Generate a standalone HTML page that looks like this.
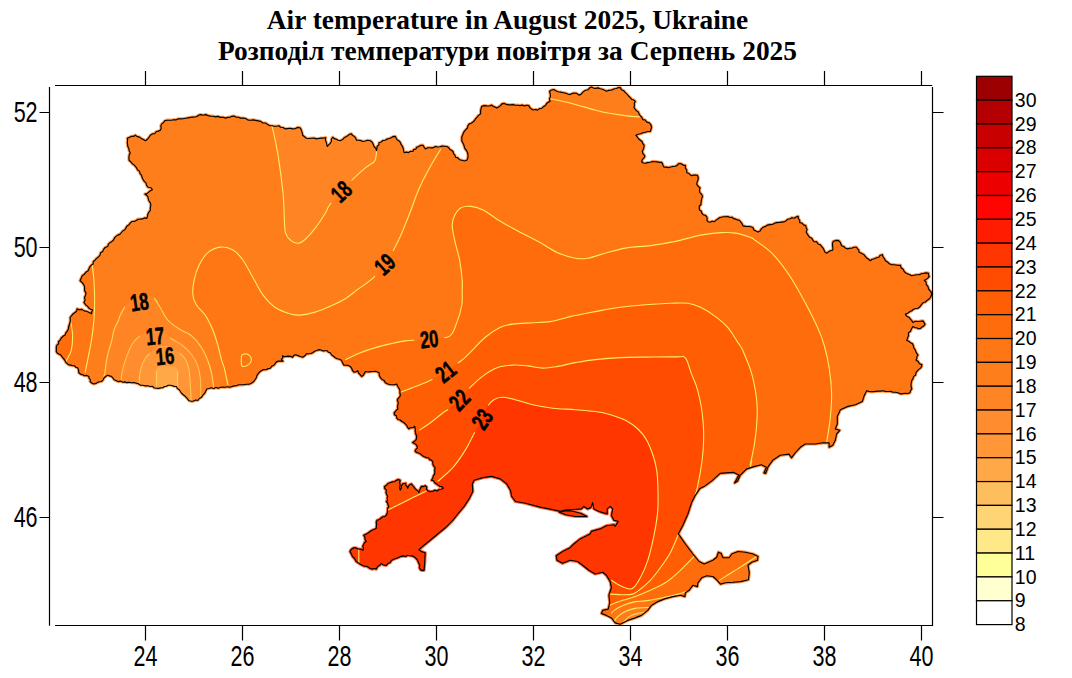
<!DOCTYPE html>
<html><head><meta charset="utf-8"><title>Air temperature in August 2025, Ukraine</title>
<style>
html,body{margin:0;padding:0;background:#fff;}
body{width:1072px;height:678px;overflow:hidden;position:relative;font-family:"Liberation Sans",sans-serif;}
.t{position:absolute;left:0;width:1015px;text-align:center;font-family:"Liberation Serif",serif;font-weight:bold;font-size:27.4px;color:#000;white-space:nowrap;}
svg{position:absolute;left:0;top:0;}
</style></head><body>
<div class="t" style="top:5px">Air temperature in August 2025, Ukraine</div>
<div class="t" style="top:36px">Розподіл температури повітря за Серпень 2025</div>
<svg width="1072" height="678" viewBox="0 0 1072 678">
<defs><mask id="lm" maskUnits="userSpaceOnUse" x="0" y="0" width="1072" height="678"><rect x="0" y="0" width="1072" height="678" fill="#fff"/><rect x="-15" y="-9" width="30" height="18" fill="#000" transform="translate(341.2,191.4) rotate(-43)"/><rect x="-15" y="-9" width="30" height="18" fill="#000" transform="translate(384.5,264.1) rotate(-42)"/><rect x="-15" y="-9" width="30" height="18" fill="#000" transform="translate(429.2,338.9) rotate(-6)"/><rect x="-15" y="-9" width="30" height="18" fill="#000" transform="translate(445.5,371.5) rotate(-38)"/><rect x="-15" y="-9" width="30" height="18" fill="#000" transform="translate(459.3,399.8) rotate(-46)"/><rect x="-15" y="-9" width="30" height="18" fill="#000" transform="translate(481.9,419.1) rotate(-56)"/><rect x="-15" y="-9" width="30" height="18" fill="#000" transform="translate(139.3,301.8) rotate(-8)"/><rect x="-15" y="-9" width="30" height="18" fill="#000" transform="translate(155.1,335.9) rotate(-5)"/><rect x="-15" y="-9" width="30" height="18" fill="#000" transform="translate(165,355.8) rotate(-5)"/></mask><mask id="um" maskUnits="userSpaceOnUse" x="0" y="0" width="1072" height="678"><g fill="#fff" stroke="#fff" stroke-width="3.2" stroke-linejoin="round"><polygon points="124.6,230.0 125.8,228.1 127.0,226.1 129.1,224.8 130.3,222.9 132.1,221.5 134.4,221.4 136.3,220.4 138.1,219.2 140.4,219.1 142.5,218.9 144.5,217.9 146.6,218.4 147.5,216.4 147.9,214.1 148.9,212.1 150.4,210.4 150.3,207.9 150.9,205.4 150.4,202.9 149.0,201.0 148.3,198.9 147.9,196.6 146.5,195.2 144.9,194.1 147.1,193.6 148.7,192.1 150.4,190.7 152.4,189.8 150.9,187.7 148.1,187.3 146.6,185.3 146.1,183.1 144.3,181.4 143.1,179.5 142.1,177.6 141.6,175.3 140.1,173.6 139.5,171.3 137.5,169.9 136.6,167.8 135.2,166.2 133.7,164.7 132.0,163.4 130.7,161.7 129.1,160.3 128.9,157.7 129.2,155.1 130.3,152.7 129.1,150.8 128.9,148.5 127.8,146.5 127.6,144.4 127.3,142.4 127.6,140.3 127.3,138.2 129.3,137.4 131.2,136.4 133.5,136.4 135.3,135.2 137.2,136.6 139.5,137.1 141.3,138.6 143.4,139.6 145.4,140.7 147.5,139.2 149.0,137.3 150.4,135.2 152.3,133.9 154.7,133.8 156.1,131.7 158.3,131.1 160.4,130.2 161.2,128.2 160.8,125.9 161.7,123.9 163.4,122.7 164.6,120.9 166.7,120.2 169.0,120.2 171.3,120.2 173.6,119.7 176.0,119.9 178.2,118.8 180.5,118.9 183.0,118.8 185.5,118.3 188.0,117.9 190.5,117.4 193.0,117.1 195.0,117.0 197.0,116.5 198.6,115.2 200.5,114.6 203.0,115.2 205.6,114.6 208.0,115.6 210.5,116.1 213.0,116.2 215.4,116.9 218.0,116.4 220.4,117.4 223.1,117.2 225.6,118.1 227.6,117.4 229.8,117.2 231.8,116.4 234.1,116.1 236.2,117.2 238.5,117.2 240.6,118.1 243.2,118.1 245.7,118.5 248.0,120.1 250.6,120.2 253.2,119.9 255.7,120.4 258.2,120.9 260.7,121.4 262.8,123.0 265.6,123.0 267.7,124.6 270.0,125.7 272.2,125.8 274.4,126.3 276.6,126.2 278.8,125.7 280.6,127.3 283.1,127.5 285.0,128.9 287.5,128.6 290.0,128.3 292.5,128.9 295.1,128.8 297.5,127.4 300.0,127.7 301.1,129.4 301.7,131.3 302.3,133.2 302.6,135.2 304.5,136.7 306.4,138.2 308.9,138.5 311.4,138.2 314.0,138.0 316.4,138.9 318.7,138.5 321.0,138.1 323.4,138.1 325.7,137.7 325.4,140.0 326.2,142.1 326.8,144.3 327.2,146.5 328.7,144.9 330.2,143.3 331.4,141.5 331.4,139.2 332.7,137.2 334.3,138.6 336.3,139.3 338.1,140.3 340.2,140.7 342.6,139.6 344.3,137.7 346.5,136.4 348.1,135.4 349.6,134.2 351.5,133.9 352.6,135.6 354.5,136.6 355.8,138.2 356.5,140.2 358.7,140.2 360.8,140.6 362.8,141.5 365.3,141.0 367.7,140.3 370.3,140.7 372.2,142.2 373.2,144.3 374.0,146.5 375.8,148.3 376.5,150.7 376.9,148.6 377.1,146.5 378.9,144.9 379.0,142.7 381.2,142.0 383.0,140.5 385.3,140.2 387.2,139.1 389.2,138.5 391.2,137.7 393.1,136.6 395.3,136.4 396.2,138.3 397.3,140.0 399.2,141.1 400.4,142.7 401.2,144.7 402.5,146.5 403.2,148.5 403.6,150.6 404.1,152.7 406.3,152.1 408.6,152.6 410.6,151.3 412.9,151.5 413.6,149.6 415.9,149.1 416.6,147.2 418.7,146.6 420.6,145.4 422.9,145.2 424.1,147.1 425.4,149.0 427.7,147.7 430.4,147.8 433.1,147.8 435.4,146.5 437.7,147.0 439.9,146.8 442.2,146.1 444.4,146.3 446.7,146.5 448.6,147.4 449.6,149.3 451.4,150.3 453.0,151.5 453.5,153.6 454.9,155.2 455.5,157.2 457.8,157.9 459.5,159.7 461.8,160.3 464.3,161.0 466.8,160.3 467.7,158.5 468.0,156.7 468.0,154.7 467.5,152.5 466.5,150.5 464.9,148.7 464.3,146.5 463.7,144.6 462.8,142.8 461.8,141.0 461.8,138.9 461.8,136.8 462.7,135.0 463.3,133.2 464.3,131.4 465.8,129.7 467.4,128.0 468.0,125.7 469.3,123.9 471.3,123.2 472.9,122.0 474.4,120.7 475.5,118.9 477.1,117.1 478.6,115.3 480.6,113.9 480.6,111.3 481.0,108.8 481.8,106.4 484.2,105.6 486.8,105.9 489.4,106.0 491.8,105.1 493.2,106.5 495.1,107.1 496.8,108.1 498.6,106.9 500.5,105.6 501.9,103.9 504.2,103.4 506.4,104.4 508.6,104.9 510.8,104.9 513.1,104.6 515.3,105.3 517.7,105.2 520.0,105.6 522.2,105.1 524.4,106.0 526.6,105.3 528.8,105.6 529.7,107.5 531.3,108.9 533.2,110.0 535.5,109.5 537.5,110.1 539.5,108.7 542.0,108.2 543.8,106.4 545.6,105.4 546.6,103.5 548.2,102.2 550.1,101.4 549.5,98.9 550.5,96.3 550.2,93.8 549.6,91.3 551.5,90.0 553.8,89.6 555.8,90.8 558.0,91.8 560.3,92.1 562.6,92.6 565.2,93.0 567.6,94.0 570.1,94.6 572.1,93.6 574.2,93.0 576.4,93.3 578.9,95.1 581.0,94.4 582.4,92.7 583.9,91.3 585.8,90.3 588.0,89.8 589.5,88.1 591.4,87.1 593.5,88.1 595.7,88.4 598.1,87.9 600.2,88.8 602.4,89.3 604.5,90.2 606.5,91.3 608.5,90.4 610.7,90.3 612.7,89.6 614.5,88.8 616.5,88.5 618.3,87.6 620.3,87.6 621.5,89.7 623.8,90.8 625.3,92.6 627.0,94.2 628.5,96.0 630.3,97.6 631.6,99.3 633.7,100.0 635.3,101.4 634.3,103.3 634.4,105.5 634.0,107.6 635.2,109.2 636.5,110.8 638.3,111.9 639.0,113.9 640.3,115.8 641.9,117.4 642.8,119.6 645.2,120.0 646.8,122.1 649.1,122.7 650.8,124.7 651.6,127.2 651.0,129.3 650.3,131.4 647.7,131.5 645.3,132.2 642.8,132.7 640.6,133.8 638.1,134.3 635.8,135.2 637.2,136.9 638.5,138.8 640.3,140.2 642.0,141.5 642.8,143.6 644.1,145.2 643.9,147.4 643.2,149.5 642.3,151.5 642.8,153.3 644.0,154.8 644.8,156.5 643.7,158.1 642.3,159.6 641.6,161.5 643.2,163.0 645.3,163.3 647.8,162.6 650.3,162.3 652.8,161.5 655.0,161.7 657.2,161.9 659.4,162.4 661.6,162.3 662.5,163.9 663.2,165.7 664.1,167.3 666.3,167.1 668.6,167.6 670.7,167.0 672.9,166.5 675.0,166.3 676.9,165.6 678.4,163.9 680.4,163.5 682.0,164.2 683.5,165.3 685.4,165.3 685.3,167.9 686.8,170.2 686.7,172.8 688.7,173.3 690.1,174.7 691.7,175.8 693.5,175.0 695.5,175.1 697.4,175.3 698.3,177.7 697.9,180.3 697.1,182.1 696.7,184.1 698.0,186.2 700.0,187.8 699.4,190.3 700.0,192.8 701.7,194.4 702.5,196.6 701.7,198.6 701.3,200.7 701.0,202.9 700.9,204.7 699.3,206.0 699.2,207.9 699.4,209.9 701.2,211.0 701.7,212.9 703.0,214.7 705.1,215.2 706.7,216.6 707.2,218.3 706.9,220.2 708.0,221.7 710.1,222.2 712.1,221.2 714.2,221.7 715.8,220.4 717.5,219.2 719.2,217.9 721.4,217.3 723.5,216.8 725.8,216.7 728.0,216.6 729.8,217.5 732.0,217.2 733.6,218.6 735.5,219.1 737.2,219.9 739.2,220.2 740.5,221.7 742.0,223.7 743.1,225.9 745.6,226.4 748.1,226.5 750.6,226.7 752.8,227.5 753.9,230.0 755.9,231.1 758.0,232.1 760.1,231.0 761.3,228.9 763.2,227.3 765.5,226.4 767.6,225.1 770.1,224.6 772.5,224.5 774.5,223.3 776.8,222.6 779.1,222.5 781.4,222.1 783.8,221.9 785.9,220.9 787.8,219.3 790.1,218.8 791.9,217.7 794.3,218.2 796.1,217.0 798.1,216.3 798.3,218.5 799.7,220.4 799.6,222.6 801.9,223.0 803.5,224.9 805.7,225.6 806.2,227.7 807.1,229.6 806.2,231.9 807.2,233.9 808.4,235.6 809.6,237.3 811.8,238.2 812.7,240.2 814.3,241.8 816.8,241.9 818.0,244.0 820.2,244.7 821.5,246.4 822.9,248.0 823.9,249.8 824.7,251.9 826.5,253.2 828.4,251.9 830.4,250.7 832.7,250.2 832.9,248.0 832.6,245.8 832.5,243.6 833.2,241.4 835.1,240.7 837.0,240.4 839.0,240.9 840.2,242.3 840.9,244.0 841.5,245.7 843.7,246.5 845.5,248.2 847.8,248.9 849.9,248.2 852.2,248.1 854.2,247.2 856.5,247.2 857.5,248.8 858.8,250.2 859.0,252.2 861.3,253.3 863.6,254.4 865.3,256.4 866.7,258.1 868.6,259.3 870.3,260.7 872.2,259.3 874.5,258.7 876.6,257.7 878.8,257.3 880.2,255.2 882.4,254.7 883.0,256.9 884.5,258.7 885.4,260.7 887.5,262.0 889.3,263.8 891.6,264.7 893.8,264.7 896.0,265.0 898.2,265.4 900.4,265.2 901.0,267.7 903.1,269.3 904.2,271.5 905.8,273.0 907.8,273.9 909.7,274.8 911.7,275.7 914.2,275.2 916.7,274.8 919.2,274.7 921.4,273.7 923.8,273.4 926.1,272.9 928.5,273.2 928.5,274.9 929.2,276.5 927.8,278.1 926.2,279.4 924.2,280.3 926.0,282.0 926.3,284.7 928.0,286.5 928.4,288.6 929.6,290.4 931.1,292.0 931.7,294.0 931.2,295.8 930.3,297.5 929.2,299.0 927.2,300.3 925.3,302.0 923.0,302.8 921.4,304.7 919.9,306.7 917.9,308.3 915.6,308.5 913.5,309.3 911.7,310.8 909.6,311.8 907.7,313.3 905.4,314.1 906.6,316.3 908.9,317.2 910.4,319.1 911.8,320.6 912.9,322.4 915.3,321.3 917.9,321.5 920.5,321.2 923.0,320.9 924.0,322.5 925.0,324.1 923.8,325.9 922.0,327.0 920.5,328.4 918.4,328.7 916.6,327.8 914.7,327.6 912.9,326.6 911.5,328.8 910.5,331.2 908.4,332.9 908.5,335.6 907.6,338.0 906.7,340.4 908.8,341.2 910.5,342.8 912.5,343.8 913.3,345.7 913.8,347.8 915.0,349.5 915.8,351.5 916.7,353.4 918.0,355.1 916.8,356.6 916.8,358.5 916.0,360.1 918.1,361.4 919.4,363.7 921.8,364.6 921.6,366.5 920.5,368.1 918.8,369.4 917.3,370.9 916.0,372.6 915.6,375.0 913.5,376.6 913.0,378.9 911.8,380.3 911.5,382.2 911.0,383.9 911.1,386.5 911.8,388.9 910.5,390.6 910.0,392.7 907.7,393.5 905.2,393.3 902.9,393.6 900.5,393.9 898.1,392.8 895.6,392.3 893.0,392.2 890.6,391.4 888.0,391.5 885.5,391.4 883.0,390.8 880.5,391.1 877.9,391.1 875.4,391.4 873.2,391.6 871.0,391.8 868.8,391.4 866.7,390.7 864.2,395.7 862.4,401.4 855.4,404.7 847.9,406.4 840.4,409.7 837.3,416.5 837.3,424.0 835.3,429.0 839.8,430.3 836.6,434.0 835.3,440.3 832.8,445.3 829.1,447.3 829.1,442.8 822.8,442.8 815.3,444.0 805.3,444.0 800.3,447.3 795.2,452.8 791.5,457.8 789.0,454.1 780.2,455.3 772.7,460.3 768.2,466.6 765.7,473.4 763.9,472.9 766.4,467.3 761.4,464.8 753.9,466.6 746.4,469.1 740.1,475.4 737.6,481.1 734.6,482.9 738.8,474.9 733.8,472.4 726.3,472.9 720.1,473.4 712.5,480.4 705.0,485.9 700.0,488.4 695.4,495.1 691.6,502.6 687.9,513.9 682.9,525.2 678.3,533.9 685.4,544.0 692.9,554.0 699.1,561.5 704.2,564.0 712.9,560.3 716.7,557.2 718.4,552.2 721.0,553.2 723.0,557.7 729.2,557.7 731.7,554.0 738.0,551.5 745.5,552.2 753.0,554.0 758.0,556.5 757.5,560.3 751.8,562.3 748.0,565.3 749.3,572.8 748.5,579.8 740.5,581.6 733.0,582.3 725.5,582.8 720.5,584.1 716.7,579.8 712.9,576.5 706.7,575.8 701.7,577.8 697.9,582.8 697.4,586.6 692.9,585.3 689.1,590.3 685.4,592.8 684.9,596.6 680.4,595.3 672.8,596.6 665.3,598.6 657.8,601.6 651.5,605.4 647.8,610.4 641.5,615.4 635.2,617.9 627.7,620.4 620.2,624.2 615.2,622.9 611.4,617.9 606.4,615.4 601.4,613.4 602.7,610.4 608.2,609.1 609.7,602.9 608.9,595.3 611.4,587.8 610.2,581.6 606.4,575.3 602.7,572.3 595.1,574.0 588.9,570.3 582.6,565.3 577.6,561.5 570.1,560.3 562.6,563.3 557.0,560.3 556.3,555.7 562.6,551.5 570.1,547.7 573.8,544.0 580.1,538.9 590.1,533.9 591.4,531.4 600.2,528.9 606.4,525.7 613.9,524.7 615.2,526.4 618.2,521.4 613.9,520.2 611.4,515.6 612.7,508.9 610.2,506.4 607.2,508.9 607.2,513.9 602.7,512.6 598.9,511.4 593.9,508.9 592.6,502.6 590.9,507.6 587.6,508.9 583.9,506.4 581.4,508.9 572.6,509.6 565.1,510.1 560.1,511.4 555.0,510.1 540.0,507.1 525.5,503.2 515.4,501.5 511.7,496.4 510.4,490.2 506.7,483.9 500.4,478.9 491.6,476.4 482.9,477.6 474.1,480.2 472.3,483.9 472.8,491.4 469.1,498.9 464.1,506.5 457.8,514.0 452.8,520.3 445.3,527.8 437.7,534.0 430.2,540.3 424.0,545.3 418.9,549.8 421.5,551.6 425.2,552.8 424.7,562.9 424.0,570.4 422.3,570.4 420.7,569.9 419.4,567.7 419.7,565.0 418.5,562.7 417.7,560.4 416.6,559.0 415.3,557.7 413.9,556.6 411.9,555.9 409.8,555.7 407.7,555.3 405.7,556.5 403.2,555.9 401.0,556.4 398.9,557.3 397.0,558.1 395.1,558.8 393.2,559.4 391.4,560.4 390.2,562.5 387.8,563.5 386.4,565.4 384.6,565.1 382.8,564.7 381.4,563.4 379.7,565.3 377.6,566.6 376.3,569.1 374.3,568.5 372.1,569.1 370.1,568.4 368.4,567.3 366.6,566.2 364.5,566.2 362.6,565.4 360.4,564.3 358.4,562.9 356.3,561.6 355.3,559.8 354.1,558.0 352.5,556.6 351.8,554.9 351.0,553.2 350.0,551.6 350.8,549.9 352.2,548.7 353.8,547.8 356.0,547.9 357.9,549.0 360.1,549.1 361.7,549.4 363.1,550.3 363.4,548.2 362.8,546.1 363.8,544.1 364.6,542.4 366.3,541.6 365.1,539.6 364.9,537.3 363.8,535.3 366.0,534.3 368.1,533.0 370.1,531.5 372.0,530.2 374.2,529.4 376.3,528.3 376.4,526.3 376.6,524.3 376.3,522.2 377.1,520.3 379.6,519.5 381.4,517.7 383.1,516.7 385.1,516.5 386.6,514.7 387.4,512.5 387.6,510.2 387.6,508.1 388.9,506.5 388.0,504.9 387.7,503.0 386.4,501.5 387.5,500.0 387.1,498.1 387.6,496.4 386.7,494.5 386.0,492.5 386.4,490.2 384.8,488.5 384.6,486.4 386.5,485.3 388.0,483.5 390.1,482.7 392.2,481.9 394.6,481.7 396.4,480.2 398.3,479.6 400.2,480.2 399.7,482.7 400.2,485.2 399.6,487.7 400.2,490.2 401.3,488.2 401.5,485.9 402.7,483.9 405.7,483.2 405.8,485.1 407.1,486.5 407.7,488.2 408.4,486.3 409.6,484.8 411.4,483.9 412.7,485.6 414.0,487.2 415.2,488.9 416.6,490.0 418.1,491.1 418.9,492.7 419.6,490.5 420.4,488.4 421.5,486.4 423.4,486.6 425.2,485.7 426.7,487.0 426.5,489.2 427.7,490.7 430.1,491.6 432.7,491.4 434.7,490.3 437.1,490.9 439.0,489.7 441.3,489.3 443.3,488.2 441.9,486.6 439.7,486.3 438.1,485.1 436.5,483.9 434.7,482.8 433.6,480.8 431.5,480.2 432.7,478.2 433.4,475.9 434.7,473.9 434.8,471.8 434.7,469.7 435.2,467.6 433.7,466.0 432.8,464.1 432.9,461.8 431.5,460.1 429.7,459.6 428.5,457.8 426.5,457.6 424.2,456.7 422.1,455.4 420.2,453.8 418.5,453.0 416.7,452.5 415.2,451.3 415.7,449.6 417.2,448.2 417.2,446.3 416.1,444.6 414.5,443.5 412.7,442.6 414.1,441.5 415.6,440.5 416.4,438.8 416.7,436.2 415.7,433.8 415.2,431.3 415.3,428.8 414.7,426.3 413.0,427.8 410.7,427.6 408.9,428.8 407.6,427.3 406.7,425.4 405.3,423.9 403.9,422.5 401.9,421.5 400.2,420.0 398.1,419.5 396.7,417.8 396.4,415.8 394.5,414.7 394.2,412.8 395.4,411.5 396.5,410.1 397.9,409.0 397.5,406.8 398.0,404.6 398.2,402.4 397.4,400.3 398.1,398.4 399.6,397.1 400.4,395.3 399.9,392.8 399.9,390.3 398.9,388.2 397.6,386.2 396.7,384.0 394.3,384.8 391.7,384.7 389.4,384.5 387.4,383.8 385.4,382.7 384.2,380.6 382.1,379.4 380.4,377.7 379.3,375.3 379.1,372.7 377.1,371.7 375.1,371.2 372.9,371.5 370.4,371.6 367.8,372.0 365.3,371.5 364.4,373.4 363.3,375.2 361.6,376.5 360.1,374.7 358.6,373.0 357.8,370.7 356.1,371.8 354.1,372.2 352.5,370.5 351.7,368.3 350.3,366.4 348.3,365.4 346.2,365.2 344.0,365.2 343.0,363.6 342.2,361.9 341.5,360.2 339.4,359.3 337.3,358.7 335.3,357.7 333.5,356.2 331.5,354.8 330.3,352.7 328.5,352.3 327.2,350.7 325.2,350.7 323.0,350.9 321.1,350.0 319.0,349.6 316.8,350.5 314.6,351.2 312.7,352.7 310.7,353.5 308.6,353.8 306.4,353.9 304.8,355.8 302.7,357.2 300.3,356.5 298.0,355.6 295.7,354.7 293.8,355.4 292.7,357.2 290.7,356.4 288.6,356.1 286.4,356.4 284.4,356.8 282.6,355.7 282.7,357.8 281.4,359.4 283.0,361.2 280.8,361.1 278.5,361.1 276.4,361.9 275.2,363.6 273.9,365.2 271.7,366.3 270.1,368.3 267.6,368.9 265.8,369.7 263.6,369.6 261.8,370.4 260.1,371.5 258.4,373.3 257.0,375.3 256.3,377.7 254.9,379.8 253.4,381.8 251.3,383.2 248.9,384.2 246.3,384.2 243.8,384.7 241.3,384.8 238.7,384.7 236.3,385.7 234.1,385.9 232.0,386.5 230.0,387.2 227.6,386.8 225.2,387.3 222.9,387.1 220.5,387.2 218.3,388.2 215.8,387.4 213.7,388.5 211.2,387.8 209.0,388.5 206.7,389.0 205.7,391.2 204.6,393.4 202.9,395.2 201.5,397.2 199.4,398.5 197.9,400.3 195.7,400.1 193.5,401.1 191.3,401.3 189.1,400.8 187.9,399.3 186.7,397.9 185.4,396.5 183.6,395.0 181.8,393.5 180.4,391.5 179.3,389.7 177.3,388.6 176.6,386.5 174.4,386.4 172.4,385.7 170.3,385.2 168.2,385.2 166.5,386.2 164.5,386.5 162.8,387.7 160.7,387.9 158.6,388.4 156.5,388.2 154.3,388.0 152.5,386.4 150.3,386.5 147.9,385.8 145.3,385.9 142.8,385.2 140.5,385.2 138.6,383.9 136.5,383.2 134.0,382.6 131.5,382.7 129.0,382.2 126.9,382.6 124.8,381.9 122.7,382.2 120.7,381.1 118.4,381.6 116.4,380.7 114.3,379.8 112.9,378.0 111.4,376.4 109.5,375.9 107.7,375.2 105.6,376.5 103.9,378.2 103.0,380.1 101.4,381.5 99.4,381.7 97.5,382.4 95.8,383.4 93.9,384.0 91.8,383.1 90.1,381.5 90.4,379.6 89.0,378.2 88.9,376.4 86.9,375.4 84.6,375.7 82.6,374.7 80.5,374.1 78.8,372.7 78.6,370.1 77.6,367.7 75.8,367.3 74.5,365.7 72.6,365.7 70.9,365.1 69.1,364.9 67.6,363.9 66.0,362.5 65.0,360.6 63.8,358.9 62.3,357.1 60.9,355.1 58.8,353.9 57.2,353.0 56.3,351.4 56.4,349.3 56.3,347.2 57.0,345.1 58.6,343.8 58.6,341.5 60.1,340.1 61.3,338.0 63.0,336.3 65.1,335.1 65.9,332.8 67.5,330.9 68.4,328.7 68.8,326.3 69.5,324.2 70.2,322.0 70.4,319.8 70.1,317.5 71.6,315.7 73.1,313.8 75.1,312.5 76.7,311.0 77.1,308.8 79.3,309.8 81.9,309.4 84.0,310.9 86.4,311.3 88.1,312.0 89.8,312.8 91.4,313.8 91.8,311.8 92.6,310.0 90.6,309.2 88.8,308.1 87.6,306.3 86.1,305.3 85.0,303.9 83.9,302.5 85.1,300.2 84.5,297.5 85.6,295.2 86.0,292.9 84.7,290.9 84.6,288.7 84.6,286.5 83.5,284.3 82.0,282.3 80.1,280.7 80.7,279.2 81.4,277.7 82.4,275.5 84.4,274.2 85.8,272.3 87.9,271.1 88.9,268.9 89.8,266.9 91.2,265.3 93.1,264.0 93.3,261.5 95.1,260.2 96.5,258.4 98.5,257.0 100.0,255.2 100.7,252.7 102.7,251.4 103.7,249.2 105.2,247.5 107.7,246.5 108.4,244.1 110.2,242.6 112.0,241.4 113.6,240.0 114.5,237.9 116.0,236.4 117.7,235.1 119.8,234.4 121.3,232.7 122.7,231.0"/><polygon points="559.3,512.2 565,510.9 570.6,510.7 580.6,513.2 586.9,516.5 575.6,516.5 565.6,514.7"/></g></mask><clipPath id="ua"><polygon points="124.6,230.0 125.8,228.1 127.0,226.1 129.1,224.8 130.3,222.9 132.1,221.5 134.4,221.4 136.3,220.4 138.1,219.2 140.4,219.1 142.5,218.9 144.5,217.9 146.6,218.4 147.5,216.4 147.9,214.1 148.9,212.1 150.4,210.4 150.3,207.9 150.9,205.4 150.4,202.9 149.0,201.0 148.3,198.9 147.9,196.6 146.5,195.2 144.9,194.1 147.1,193.6 148.7,192.1 150.4,190.7 152.4,189.8 150.9,187.7 148.1,187.3 146.6,185.3 146.1,183.1 144.3,181.4 143.1,179.5 142.1,177.6 141.6,175.3 140.1,173.6 139.5,171.3 137.5,169.9 136.6,167.8 135.2,166.2 133.7,164.7 132.0,163.4 130.7,161.7 129.1,160.3 128.9,157.7 129.2,155.1 130.3,152.7 129.1,150.8 128.9,148.5 127.8,146.5 127.6,144.4 127.3,142.4 127.6,140.3 127.3,138.2 129.3,137.4 131.2,136.4 133.5,136.4 135.3,135.2 137.2,136.6 139.5,137.1 141.3,138.6 143.4,139.6 145.4,140.7 147.5,139.2 149.0,137.3 150.4,135.2 152.3,133.9 154.7,133.8 156.1,131.7 158.3,131.1 160.4,130.2 161.2,128.2 160.8,125.9 161.7,123.9 163.4,122.7 164.6,120.9 166.7,120.2 169.0,120.2 171.3,120.2 173.6,119.7 176.0,119.9 178.2,118.8 180.5,118.9 183.0,118.8 185.5,118.3 188.0,117.9 190.5,117.4 193.0,117.1 195.0,117.0 197.0,116.5 198.6,115.2 200.5,114.6 203.0,115.2 205.6,114.6 208.0,115.6 210.5,116.1 213.0,116.2 215.4,116.9 218.0,116.4 220.4,117.4 223.1,117.2 225.6,118.1 227.6,117.4 229.8,117.2 231.8,116.4 234.1,116.1 236.2,117.2 238.5,117.2 240.6,118.1 243.2,118.1 245.7,118.5 248.0,120.1 250.6,120.2 253.2,119.9 255.7,120.4 258.2,120.9 260.7,121.4 262.8,123.0 265.6,123.0 267.7,124.6 270.0,125.7 272.2,125.8 274.4,126.3 276.6,126.2 278.8,125.7 280.6,127.3 283.1,127.5 285.0,128.9 287.5,128.6 290.0,128.3 292.5,128.9 295.1,128.8 297.5,127.4 300.0,127.7 301.1,129.4 301.7,131.3 302.3,133.2 302.6,135.2 304.5,136.7 306.4,138.2 308.9,138.5 311.4,138.2 314.0,138.0 316.4,138.9 318.7,138.5 321.0,138.1 323.4,138.1 325.7,137.7 325.4,140.0 326.2,142.1 326.8,144.3 327.2,146.5 328.7,144.9 330.2,143.3 331.4,141.5 331.4,139.2 332.7,137.2 334.3,138.6 336.3,139.3 338.1,140.3 340.2,140.7 342.6,139.6 344.3,137.7 346.5,136.4 348.1,135.4 349.6,134.2 351.5,133.9 352.6,135.6 354.5,136.6 355.8,138.2 356.5,140.2 358.7,140.2 360.8,140.6 362.8,141.5 365.3,141.0 367.7,140.3 370.3,140.7 372.2,142.2 373.2,144.3 374.0,146.5 375.8,148.3 376.5,150.7 376.9,148.6 377.1,146.5 378.9,144.9 379.0,142.7 381.2,142.0 383.0,140.5 385.3,140.2 387.2,139.1 389.2,138.5 391.2,137.7 393.1,136.6 395.3,136.4 396.2,138.3 397.3,140.0 399.2,141.1 400.4,142.7 401.2,144.7 402.5,146.5 403.2,148.5 403.6,150.6 404.1,152.7 406.3,152.1 408.6,152.6 410.6,151.3 412.9,151.5 413.6,149.6 415.9,149.1 416.6,147.2 418.7,146.6 420.6,145.4 422.9,145.2 424.1,147.1 425.4,149.0 427.7,147.7 430.4,147.8 433.1,147.8 435.4,146.5 437.7,147.0 439.9,146.8 442.2,146.1 444.4,146.3 446.7,146.5 448.6,147.4 449.6,149.3 451.4,150.3 453.0,151.5 453.5,153.6 454.9,155.2 455.5,157.2 457.8,157.9 459.5,159.7 461.8,160.3 464.3,161.0 466.8,160.3 467.7,158.5 468.0,156.7 468.0,154.7 467.5,152.5 466.5,150.5 464.9,148.7 464.3,146.5 463.7,144.6 462.8,142.8 461.8,141.0 461.8,138.9 461.8,136.8 462.7,135.0 463.3,133.2 464.3,131.4 465.8,129.7 467.4,128.0 468.0,125.7 469.3,123.9 471.3,123.2 472.9,122.0 474.4,120.7 475.5,118.9 477.1,117.1 478.6,115.3 480.6,113.9 480.6,111.3 481.0,108.8 481.8,106.4 484.2,105.6 486.8,105.9 489.4,106.0 491.8,105.1 493.2,106.5 495.1,107.1 496.8,108.1 498.6,106.9 500.5,105.6 501.9,103.9 504.2,103.4 506.4,104.4 508.6,104.9 510.8,104.9 513.1,104.6 515.3,105.3 517.7,105.2 520.0,105.6 522.2,105.1 524.4,106.0 526.6,105.3 528.8,105.6 529.7,107.5 531.3,108.9 533.2,110.0 535.5,109.5 537.5,110.1 539.5,108.7 542.0,108.2 543.8,106.4 545.6,105.4 546.6,103.5 548.2,102.2 550.1,101.4 549.5,98.9 550.5,96.3 550.2,93.8 549.6,91.3 551.5,90.0 553.8,89.6 555.8,90.8 558.0,91.8 560.3,92.1 562.6,92.6 565.2,93.0 567.6,94.0 570.1,94.6 572.1,93.6 574.2,93.0 576.4,93.3 578.9,95.1 581.0,94.4 582.4,92.7 583.9,91.3 585.8,90.3 588.0,89.8 589.5,88.1 591.4,87.1 593.5,88.1 595.7,88.4 598.1,87.9 600.2,88.8 602.4,89.3 604.5,90.2 606.5,91.3 608.5,90.4 610.7,90.3 612.7,89.6 614.5,88.8 616.5,88.5 618.3,87.6 620.3,87.6 621.5,89.7 623.8,90.8 625.3,92.6 627.0,94.2 628.5,96.0 630.3,97.6 631.6,99.3 633.7,100.0 635.3,101.4 634.3,103.3 634.4,105.5 634.0,107.6 635.2,109.2 636.5,110.8 638.3,111.9 639.0,113.9 640.3,115.8 641.9,117.4 642.8,119.6 645.2,120.0 646.8,122.1 649.1,122.7 650.8,124.7 651.6,127.2 651.0,129.3 650.3,131.4 647.7,131.5 645.3,132.2 642.8,132.7 640.6,133.8 638.1,134.3 635.8,135.2 637.2,136.9 638.5,138.8 640.3,140.2 642.0,141.5 642.8,143.6 644.1,145.2 643.9,147.4 643.2,149.5 642.3,151.5 642.8,153.3 644.0,154.8 644.8,156.5 643.7,158.1 642.3,159.6 641.6,161.5 643.2,163.0 645.3,163.3 647.8,162.6 650.3,162.3 652.8,161.5 655.0,161.7 657.2,161.9 659.4,162.4 661.6,162.3 662.5,163.9 663.2,165.7 664.1,167.3 666.3,167.1 668.6,167.6 670.7,167.0 672.9,166.5 675.0,166.3 676.9,165.6 678.4,163.9 680.4,163.5 682.0,164.2 683.5,165.3 685.4,165.3 685.3,167.9 686.8,170.2 686.7,172.8 688.7,173.3 690.1,174.7 691.7,175.8 693.5,175.0 695.5,175.1 697.4,175.3 698.3,177.7 697.9,180.3 697.1,182.1 696.7,184.1 698.0,186.2 700.0,187.8 699.4,190.3 700.0,192.8 701.7,194.4 702.5,196.6 701.7,198.6 701.3,200.7 701.0,202.9 700.9,204.7 699.3,206.0 699.2,207.9 699.4,209.9 701.2,211.0 701.7,212.9 703.0,214.7 705.1,215.2 706.7,216.6 707.2,218.3 706.9,220.2 708.0,221.7 710.1,222.2 712.1,221.2 714.2,221.7 715.8,220.4 717.5,219.2 719.2,217.9 721.4,217.3 723.5,216.8 725.8,216.7 728.0,216.6 729.8,217.5 732.0,217.2 733.6,218.6 735.5,219.1 737.2,219.9 739.2,220.2 740.5,221.7 742.0,223.7 743.1,225.9 745.6,226.4 748.1,226.5 750.6,226.7 752.8,227.5 753.9,230.0 755.9,231.1 758.0,232.1 760.1,231.0 761.3,228.9 763.2,227.3 765.5,226.4 767.6,225.1 770.1,224.6 772.5,224.5 774.5,223.3 776.8,222.6 779.1,222.5 781.4,222.1 783.8,221.9 785.9,220.9 787.8,219.3 790.1,218.8 791.9,217.7 794.3,218.2 796.1,217.0 798.1,216.3 798.3,218.5 799.7,220.4 799.6,222.6 801.9,223.0 803.5,224.9 805.7,225.6 806.2,227.7 807.1,229.6 806.2,231.9 807.2,233.9 808.4,235.6 809.6,237.3 811.8,238.2 812.7,240.2 814.3,241.8 816.8,241.9 818.0,244.0 820.2,244.7 821.5,246.4 822.9,248.0 823.9,249.8 824.7,251.9 826.5,253.2 828.4,251.9 830.4,250.7 832.7,250.2 832.9,248.0 832.6,245.8 832.5,243.6 833.2,241.4 835.1,240.7 837.0,240.4 839.0,240.9 840.2,242.3 840.9,244.0 841.5,245.7 843.7,246.5 845.5,248.2 847.8,248.9 849.9,248.2 852.2,248.1 854.2,247.2 856.5,247.2 857.5,248.8 858.8,250.2 859.0,252.2 861.3,253.3 863.6,254.4 865.3,256.4 866.7,258.1 868.6,259.3 870.3,260.7 872.2,259.3 874.5,258.7 876.6,257.7 878.8,257.3 880.2,255.2 882.4,254.7 883.0,256.9 884.5,258.7 885.4,260.7 887.5,262.0 889.3,263.8 891.6,264.7 893.8,264.7 896.0,265.0 898.2,265.4 900.4,265.2 901.0,267.7 903.1,269.3 904.2,271.5 905.8,273.0 907.8,273.9 909.7,274.8 911.7,275.7 914.2,275.2 916.7,274.8 919.2,274.7 921.4,273.7 923.8,273.4 926.1,272.9 928.5,273.2 928.5,274.9 929.2,276.5 927.8,278.1 926.2,279.4 924.2,280.3 926.0,282.0 926.3,284.7 928.0,286.5 928.4,288.6 929.6,290.4 931.1,292.0 931.7,294.0 931.2,295.8 930.3,297.5 929.2,299.0 927.2,300.3 925.3,302.0 923.0,302.8 921.4,304.7 919.9,306.7 917.9,308.3 915.6,308.5 913.5,309.3 911.7,310.8 909.6,311.8 907.7,313.3 905.4,314.1 906.6,316.3 908.9,317.2 910.4,319.1 911.8,320.6 912.9,322.4 915.3,321.3 917.9,321.5 920.5,321.2 923.0,320.9 924.0,322.5 925.0,324.1 923.8,325.9 922.0,327.0 920.5,328.4 918.4,328.7 916.6,327.8 914.7,327.6 912.9,326.6 911.5,328.8 910.5,331.2 908.4,332.9 908.5,335.6 907.6,338.0 906.7,340.4 908.8,341.2 910.5,342.8 912.5,343.8 913.3,345.7 913.8,347.8 915.0,349.5 915.8,351.5 916.7,353.4 918.0,355.1 916.8,356.6 916.8,358.5 916.0,360.1 918.1,361.4 919.4,363.7 921.8,364.6 921.6,366.5 920.5,368.1 918.8,369.4 917.3,370.9 916.0,372.6 915.6,375.0 913.5,376.6 913.0,378.9 911.8,380.3 911.5,382.2 911.0,383.9 911.1,386.5 911.8,388.9 910.5,390.6 910.0,392.7 907.7,393.5 905.2,393.3 902.9,393.6 900.5,393.9 898.1,392.8 895.6,392.3 893.0,392.2 890.6,391.4 888.0,391.5 885.5,391.4 883.0,390.8 880.5,391.1 877.9,391.1 875.4,391.4 873.2,391.6 871.0,391.8 868.8,391.4 866.7,390.7 864.2,395.7 862.4,401.4 855.4,404.7 847.9,406.4 840.4,409.7 837.3,416.5 837.3,424.0 835.3,429.0 839.8,430.3 836.6,434.0 835.3,440.3 832.8,445.3 829.1,447.3 829.1,442.8 822.8,442.8 815.3,444.0 805.3,444.0 800.3,447.3 795.2,452.8 791.5,457.8 789.0,454.1 780.2,455.3 772.7,460.3 768.2,466.6 765.7,473.4 763.9,472.9 766.4,467.3 761.4,464.8 753.9,466.6 746.4,469.1 740.1,475.4 737.6,481.1 734.6,482.9 738.8,474.9 733.8,472.4 726.3,472.9 720.1,473.4 712.5,480.4 705.0,485.9 700.0,488.4 695.4,495.1 691.6,502.6 687.9,513.9 682.9,525.2 678.3,533.9 685.4,544.0 692.9,554.0 699.1,561.5 704.2,564.0 712.9,560.3 716.7,557.2 718.4,552.2 721.0,553.2 723.0,557.7 729.2,557.7 731.7,554.0 738.0,551.5 745.5,552.2 753.0,554.0 758.0,556.5 757.5,560.3 751.8,562.3 748.0,565.3 749.3,572.8 748.5,579.8 740.5,581.6 733.0,582.3 725.5,582.8 720.5,584.1 716.7,579.8 712.9,576.5 706.7,575.8 701.7,577.8 697.9,582.8 697.4,586.6 692.9,585.3 689.1,590.3 685.4,592.8 684.9,596.6 680.4,595.3 672.8,596.6 665.3,598.6 657.8,601.6 651.5,605.4 647.8,610.4 641.5,615.4 635.2,617.9 627.7,620.4 620.2,624.2 615.2,622.9 611.4,617.9 606.4,615.4 601.4,613.4 602.7,610.4 608.2,609.1 609.7,602.9 608.9,595.3 611.4,587.8 610.2,581.6 606.4,575.3 602.7,572.3 595.1,574.0 588.9,570.3 582.6,565.3 577.6,561.5 570.1,560.3 562.6,563.3 557.0,560.3 556.3,555.7 562.6,551.5 570.1,547.7 573.8,544.0 580.1,538.9 590.1,533.9 591.4,531.4 600.2,528.9 606.4,525.7 613.9,524.7 615.2,526.4 618.2,521.4 613.9,520.2 611.4,515.6 612.7,508.9 610.2,506.4 607.2,508.9 607.2,513.9 602.7,512.6 598.9,511.4 593.9,508.9 592.6,502.6 590.9,507.6 587.6,508.9 583.9,506.4 581.4,508.9 572.6,509.6 565.1,510.1 560.1,511.4 555.0,510.1 540.0,507.1 525.5,503.2 515.4,501.5 511.7,496.4 510.4,490.2 506.7,483.9 500.4,478.9 491.6,476.4 482.9,477.6 474.1,480.2 472.3,483.9 472.8,491.4 469.1,498.9 464.1,506.5 457.8,514.0 452.8,520.3 445.3,527.8 437.7,534.0 430.2,540.3 424.0,545.3 418.9,549.8 421.5,551.6 425.2,552.8 424.7,562.9 424.0,570.4 422.3,570.4 420.7,569.9 419.4,567.7 419.7,565.0 418.5,562.7 417.7,560.4 416.6,559.0 415.3,557.7 413.9,556.6 411.9,555.9 409.8,555.7 407.7,555.3 405.7,556.5 403.2,555.9 401.0,556.4 398.9,557.3 397.0,558.1 395.1,558.8 393.2,559.4 391.4,560.4 390.2,562.5 387.8,563.5 386.4,565.4 384.6,565.1 382.8,564.7 381.4,563.4 379.7,565.3 377.6,566.6 376.3,569.1 374.3,568.5 372.1,569.1 370.1,568.4 368.4,567.3 366.6,566.2 364.5,566.2 362.6,565.4 360.4,564.3 358.4,562.9 356.3,561.6 355.3,559.8 354.1,558.0 352.5,556.6 351.8,554.9 351.0,553.2 350.0,551.6 350.8,549.9 352.2,548.7 353.8,547.8 356.0,547.9 357.9,549.0 360.1,549.1 361.7,549.4 363.1,550.3 363.4,548.2 362.8,546.1 363.8,544.1 364.6,542.4 366.3,541.6 365.1,539.6 364.9,537.3 363.8,535.3 366.0,534.3 368.1,533.0 370.1,531.5 372.0,530.2 374.2,529.4 376.3,528.3 376.4,526.3 376.6,524.3 376.3,522.2 377.1,520.3 379.6,519.5 381.4,517.7 383.1,516.7 385.1,516.5 386.6,514.7 387.4,512.5 387.6,510.2 387.6,508.1 388.9,506.5 388.0,504.9 387.7,503.0 386.4,501.5 387.5,500.0 387.1,498.1 387.6,496.4 386.7,494.5 386.0,492.5 386.4,490.2 384.8,488.5 384.6,486.4 386.5,485.3 388.0,483.5 390.1,482.7 392.2,481.9 394.6,481.7 396.4,480.2 398.3,479.6 400.2,480.2 399.7,482.7 400.2,485.2 399.6,487.7 400.2,490.2 401.3,488.2 401.5,485.9 402.7,483.9 405.7,483.2 405.8,485.1 407.1,486.5 407.7,488.2 408.4,486.3 409.6,484.8 411.4,483.9 412.7,485.6 414.0,487.2 415.2,488.9 416.6,490.0 418.1,491.1 418.9,492.7 419.6,490.5 420.4,488.4 421.5,486.4 423.4,486.6 425.2,485.7 426.7,487.0 426.5,489.2 427.7,490.7 430.1,491.6 432.7,491.4 434.7,490.3 437.1,490.9 439.0,489.7 441.3,489.3 443.3,488.2 441.9,486.6 439.7,486.3 438.1,485.1 436.5,483.9 434.7,482.8 433.6,480.8 431.5,480.2 432.7,478.2 433.4,475.9 434.7,473.9 434.8,471.8 434.7,469.7 435.2,467.6 433.7,466.0 432.8,464.1 432.9,461.8 431.5,460.1 429.7,459.6 428.5,457.8 426.5,457.6 424.2,456.7 422.1,455.4 420.2,453.8 418.5,453.0 416.7,452.5 415.2,451.3 415.7,449.6 417.2,448.2 417.2,446.3 416.1,444.6 414.5,443.5 412.7,442.6 414.1,441.5 415.6,440.5 416.4,438.8 416.7,436.2 415.7,433.8 415.2,431.3 415.3,428.8 414.7,426.3 413.0,427.8 410.7,427.6 408.9,428.8 407.6,427.3 406.7,425.4 405.3,423.9 403.9,422.5 401.9,421.5 400.2,420.0 398.1,419.5 396.7,417.8 396.4,415.8 394.5,414.7 394.2,412.8 395.4,411.5 396.5,410.1 397.9,409.0 397.5,406.8 398.0,404.6 398.2,402.4 397.4,400.3 398.1,398.4 399.6,397.1 400.4,395.3 399.9,392.8 399.9,390.3 398.9,388.2 397.6,386.2 396.7,384.0 394.3,384.8 391.7,384.7 389.4,384.5 387.4,383.8 385.4,382.7 384.2,380.6 382.1,379.4 380.4,377.7 379.3,375.3 379.1,372.7 377.1,371.7 375.1,371.2 372.9,371.5 370.4,371.6 367.8,372.0 365.3,371.5 364.4,373.4 363.3,375.2 361.6,376.5 360.1,374.7 358.6,373.0 357.8,370.7 356.1,371.8 354.1,372.2 352.5,370.5 351.7,368.3 350.3,366.4 348.3,365.4 346.2,365.2 344.0,365.2 343.0,363.6 342.2,361.9 341.5,360.2 339.4,359.3 337.3,358.7 335.3,357.7 333.5,356.2 331.5,354.8 330.3,352.7 328.5,352.3 327.2,350.7 325.2,350.7 323.0,350.9 321.1,350.0 319.0,349.6 316.8,350.5 314.6,351.2 312.7,352.7 310.7,353.5 308.6,353.8 306.4,353.9 304.8,355.8 302.7,357.2 300.3,356.5 298.0,355.6 295.7,354.7 293.8,355.4 292.7,357.2 290.7,356.4 288.6,356.1 286.4,356.4 284.4,356.8 282.6,355.7 282.7,357.8 281.4,359.4 283.0,361.2 280.8,361.1 278.5,361.1 276.4,361.9 275.2,363.6 273.9,365.2 271.7,366.3 270.1,368.3 267.6,368.9 265.8,369.7 263.6,369.6 261.8,370.4 260.1,371.5 258.4,373.3 257.0,375.3 256.3,377.7 254.9,379.8 253.4,381.8 251.3,383.2 248.9,384.2 246.3,384.2 243.8,384.7 241.3,384.8 238.7,384.7 236.3,385.7 234.1,385.9 232.0,386.5 230.0,387.2 227.6,386.8 225.2,387.3 222.9,387.1 220.5,387.2 218.3,388.2 215.8,387.4 213.7,388.5 211.2,387.8 209.0,388.5 206.7,389.0 205.7,391.2 204.6,393.4 202.9,395.2 201.5,397.2 199.4,398.5 197.9,400.3 195.7,400.1 193.5,401.1 191.3,401.3 189.1,400.8 187.9,399.3 186.7,397.9 185.4,396.5 183.6,395.0 181.8,393.5 180.4,391.5 179.3,389.7 177.3,388.6 176.6,386.5 174.4,386.4 172.4,385.7 170.3,385.2 168.2,385.2 166.5,386.2 164.5,386.5 162.8,387.7 160.7,387.9 158.6,388.4 156.5,388.2 154.3,388.0 152.5,386.4 150.3,386.5 147.9,385.8 145.3,385.9 142.8,385.2 140.5,385.2 138.6,383.9 136.5,383.2 134.0,382.6 131.5,382.7 129.0,382.2 126.9,382.6 124.8,381.9 122.7,382.2 120.7,381.1 118.4,381.6 116.4,380.7 114.3,379.8 112.9,378.0 111.4,376.4 109.5,375.9 107.7,375.2 105.6,376.5 103.9,378.2 103.0,380.1 101.4,381.5 99.4,381.7 97.5,382.4 95.8,383.4 93.9,384.0 91.8,383.1 90.1,381.5 90.4,379.6 89.0,378.2 88.9,376.4 86.9,375.4 84.6,375.7 82.6,374.7 80.5,374.1 78.8,372.7 78.6,370.1 77.6,367.7 75.8,367.3 74.5,365.7 72.6,365.7 70.9,365.1 69.1,364.9 67.6,363.9 66.0,362.5 65.0,360.6 63.8,358.9 62.3,357.1 60.9,355.1 58.8,353.9 57.2,353.0 56.3,351.4 56.4,349.3 56.3,347.2 57.0,345.1 58.6,343.8 58.6,341.5 60.1,340.1 61.3,338.0 63.0,336.3 65.1,335.1 65.9,332.8 67.5,330.9 68.4,328.7 68.8,326.3 69.5,324.2 70.2,322.0 70.4,319.8 70.1,317.5 71.6,315.7 73.1,313.8 75.1,312.5 76.7,311.0 77.1,308.8 79.3,309.8 81.9,309.4 84.0,310.9 86.4,311.3 88.1,312.0 89.8,312.8 91.4,313.8 91.8,311.8 92.6,310.0 90.6,309.2 88.8,308.1 87.6,306.3 86.1,305.3 85.0,303.9 83.9,302.5 85.1,300.2 84.5,297.5 85.6,295.2 86.0,292.9 84.7,290.9 84.6,288.7 84.6,286.5 83.5,284.3 82.0,282.3 80.1,280.7 80.7,279.2 81.4,277.7 82.4,275.5 84.4,274.2 85.8,272.3 87.9,271.1 88.9,268.9 89.8,266.9 91.2,265.3 93.1,264.0 93.3,261.5 95.1,260.2 96.5,258.4 98.5,257.0 100.0,255.2 100.7,252.7 102.7,251.4 103.7,249.2 105.2,247.5 107.7,246.5 108.4,244.1 110.2,242.6 112.0,241.4 113.6,240.0 114.5,237.9 116.0,236.4 117.7,235.1 119.8,234.4 121.3,232.7 122.7,231.0"/><polygon points="559.3,512.2 565,510.9 570.6,510.7 580.6,513.2 586.9,516.5 575.6,516.5 565.6,514.7"/></clipPath></defs>
<g mask="url(#um)" opacity="0.75"><use href="#bands"/></g>
<g clip-path="url(#ua)">
<g id="bands">
<rect x="40" y="60" width="960" height="600" fill="#FF7E1C"/>
<path fill="#FF7614" d="M228.0,385.2C227.4,382.3 225.2,371.8 224.2,367.7C223.1,363.6 222.8,364.1 221.7,360.4C220.6,356.7 219.4,350.4 217.9,345.4C216.4,340.4 215.0,335.3 212.9,330.3C210.8,325.3 208.1,319.5 205.4,315.3C202.7,311.1 198.7,308.7 196.6,305.3C194.5,301.9 193.3,299.4 192.9,295.2C192.5,291.0 193.1,285.2 194.1,280.2C195.1,275.2 196.8,269.8 199.1,265.2C201.4,260.6 204.3,255.6 207.9,252.6C211.5,249.6 216.3,247.5 220.5,247.1C224.7,246.7 229.2,247.9 233.0,250.1C236.8,252.3 239.7,255.6 243.0,260.2C246.3,264.8 249.7,271.9 253.0,277.7C256.4,283.5 259.3,290.2 263.1,295.2C266.9,300.2 271.0,304.7 275.6,307.8C280.2,310.9 286.5,312.8 290.6,314.0C294.7,315.2 296.1,315.4 300.2,315.1C304.3,314.8 310.2,313.6 315.2,312.1C320.2,310.6 325.3,308.5 330.3,306.3C335.3,304.1 340.7,301.7 345.3,298.8C349.9,295.9 353.5,292.6 358.2,289.1C362.9,285.6 368.9,282.1 373.3,277.9C377.7,273.7 381.4,268.3 384.5,264.1C387.6,259.9 389.4,257.6 392.1,252.8C394.8,248.0 397.7,242.4 400.8,235.3C403.9,228.2 408.0,217.7 410.9,210.2C413.8,202.7 415.5,196.9 418.4,190.2C421.3,183.5 424.6,177.0 428.4,170.1C432.1,163.2 438.8,152.4 440.9,148.8L441,60L1000,60L1000,660L228,660Z"/>
<path fill="#FF7614" d="M92.1,263.9C92.4,266.6 93.5,274.1 93.9,280.2C94.3,286.3 94.6,293.6 94.6,300.3C94.6,307.0 94.4,313.6 93.9,320.3C93.4,327.0 92.5,333.7 91.4,340.4C90.4,347.1 88.6,355.0 87.6,360.4C86.5,365.8 85.5,370.6 85.1,372.7L84,380L40,380L40,260L92,260Z"/>
<path fill="#FF6C0C" d="M70.6,317.0C70.6,317.6 70.3,317.2 70.6,320.3C70.9,323.4 72.5,330.3 72.6,335.3C72.7,340.3 72.3,346.2 71.3,350.4C70.2,354.6 67.4,358.3 66.3,360.4C65.2,362.5 64.8,362.6 64.5,363.0L64,364L40,364L40,316Z"/>
<path fill="#FF6C0C" d="M345.3,359.7C347.8,358.5 355.3,354.7 360.3,352.7C365.3,350.7 370.4,349.1 375.4,347.6C380.4,346.1 385.4,345.0 390.4,343.9C395.4,342.8 400.8,341.5 405.4,340.9C410.0,340.3 414.0,340.4 418.0,340.1C422.0,339.8 424.0,339.5 429.2,338.9C434.4,338.3 444.7,339.1 449.3,336.4C453.9,333.7 454.7,327.8 456.8,322.6C458.9,317.4 460.9,310.4 461.8,305.0C462.7,299.6 462.1,294.1 462.2,290.0C462.3,285.9 462.6,285.3 462.2,280.4C461.8,275.4 460.9,267.0 459.7,260.3C458.4,253.6 455.9,246.2 454.7,240.3C453.4,234.5 452.2,229.4 452.2,225.2C452.2,221.0 453.2,218.1 454.7,215.2C456.2,212.3 458.3,209.2 461.0,207.7C463.7,206.2 467.2,206.0 471.0,206.4C474.8,206.8 478.9,207.9 483.5,210.2C488.1,212.5 492.8,216.6 498.6,220.2C504.5,223.8 511.7,227.8 518.6,231.5C525.5,235.2 533.6,239.1 540.1,242.6C546.6,246.1 551.8,250.1 557.6,252.7C563.5,255.3 570.2,257.3 575.2,258.2C580.2,259.1 582.7,259.0 587.7,258.2C592.7,257.4 599.0,254.9 605.3,253.2C611.6,251.5 617.8,249.4 625.3,248.1C632.8,246.8 642.0,246.7 650.4,245.6C658.8,244.5 667.0,243.2 675.4,241.4C683.8,239.7 693.0,236.6 700.5,235.1C708.0,233.6 714.8,232.9 720.6,232.6C726.5,232.3 730.6,232.3 735.6,233.1C740.6,233.9 747.4,236.4 750.6,237.6C753.8,238.8 751.3,237.5 755.0,240.2C758.7,242.9 766.8,247.8 772.6,253.9C778.5,259.9 784.7,268.4 790.1,276.5C795.5,284.6 800.6,294.2 805.2,302.8C809.8,311.4 814.6,320.9 817.7,327.9C820.9,334.9 822.2,338.4 824.1,345.0C826.0,351.6 827.9,359.7 829.1,367.6C830.4,375.6 831.4,384.4 831.6,392.7C831.8,401.0 831.1,409.3 830.3,417.7C829.5,426.1 827.2,438.6 826.6,442.8L825,455L825,660L343,660L343,361Z"/>
<path fill="#FF5E04" d="M400.4,392.3C402.9,391.3 410.9,388.3 415.5,386.5C420.1,384.7 424.7,383.0 428.0,381.5C431.3,380.0 432.6,379.4 435.5,377.7C438.4,376.0 441.1,374.4 445.5,371.5C449.9,368.6 457.7,363.3 461.8,360.2C465.9,357.1 466.1,356.4 470.0,352.6C473.9,348.8 480.0,341.7 485.0,337.5C490.0,333.3 495.4,329.7 500.0,327.5C504.6,325.3 507.1,324.9 512.5,324.1C517.9,323.3 526.3,323.2 532.6,322.8C538.9,322.4 543.8,322.6 550.1,321.6C556.4,320.6 562.7,318.3 570.2,316.6C577.7,314.9 586.9,313.2 595.2,311.6C603.6,310.1 611.9,308.4 620.3,307.3C628.7,306.2 637.0,305.5 645.4,304.8C653.8,304.1 663.3,303.6 670.4,303.3C677.5,303.1 683.0,302.6 688.0,303.3C693.0,304.0 695.9,305.1 700.5,307.3C705.1,309.5 710.9,313.2 715.5,316.6C720.1,320.0 724.3,323.4 728.1,327.8C731.9,332.2 735.7,339.2 738.1,342.9C740.5,346.6 740.4,345.2 742.6,350.1C744.8,355.1 749.1,364.7 751.4,372.6C753.7,380.5 755.4,390.2 756.4,397.7C757.4,405.2 757.4,410.2 757.1,417.7C756.8,425.2 755.8,434.9 754.6,442.8C753.4,450.7 750.9,461.6 750.1,465.3L749,472L749,660L340,660L340,405L398,393.5Z"/>
<path fill="#FF4C00" d="M419.2,430.4C421.1,429.1 426.5,425.7 430.5,422.8C434.5,419.9 439.6,415.3 443.0,412.8C446.4,410.3 447.9,410.0 450.6,407.8C453.3,405.6 456.1,403.2 459.3,399.8C462.5,396.4 466.1,391.6 470.0,387.7C473.9,383.8 477.9,379.8 482.5,376.4C487.1,373.0 492.6,369.5 497.6,367.6C502.6,365.7 507.6,365.4 512.6,365.1C517.6,364.8 522.6,365.4 527.6,365.9C532.6,366.4 537.7,368.0 542.7,368.1C547.7,368.2 552.3,367.3 557.7,366.4C563.1,365.5 569.0,363.7 575.3,362.6C581.6,361.5 587.8,360.4 595.3,359.6C602.8,358.8 612.0,358.0 620.4,357.6C628.8,357.2 637.0,357.2 645.4,357.1C653.8,357.0 664.7,356.9 670.5,356.9C676.3,356.8 678.1,356.9 680.2,356.8C682.3,356.7 682.4,356.1 683.3,356.4C684.2,356.7 685.0,357.5 685.7,358.4C686.4,359.3 686.5,359.3 687.5,362.0C688.5,364.7 690.1,370.4 691.6,374.4C693.1,378.3 694.9,381.8 696.2,385.7C697.5,389.6 698.6,393.9 699.5,398.0C700.4,402.1 701.1,404.8 701.8,410.2C702.5,415.6 703.4,423.6 703.6,430.3C703.8,437.0 703.6,443.6 703.1,450.3C702.6,457.0 701.7,463.8 700.6,470.4C699.5,477.0 697.7,485.8 696.8,489.9C695.9,494.0 696.1,490.8 695.0,495.0C693.9,499.2 692.7,508.5 690.0,515.0C687.3,521.5 681.0,530.8 679.0,534.0C677.0,537.2 679.8,531.4 678.3,534.5C676.8,537.6 673.3,547.2 670.3,552.7C667.3,558.2 663.6,563.2 660.3,567.8C657.0,572.4 653.6,576.8 650.3,580.3C647.0,583.8 643.2,586.8 640.3,589.1C637.4,591.4 635.6,593.2 632.7,594.1C629.8,595.0 626.2,594.8 622.7,594.8C619.2,594.8 613.7,594.2 611.4,594.1C609.1,594.0 609.4,594.0 609.0,594.0L605,594L340,594L340,440L416,432.5Z"/>
<path fill="#FF3600" d="M340.0,512.0C347.3,512.0 376.1,512.3 384.0,512.0C391.9,511.7 384.5,511.8 387.6,510.2C390.7,508.6 398.1,505.0 402.7,502.7C407.3,500.4 411.2,498.4 415.2,496.4C419.2,494.4 422.8,493.4 426.5,490.9C430.2,488.4 433.3,485.3 437.7,481.4C442.1,477.5 448.2,472.8 452.8,467.6C457.4,462.4 461.7,455.9 465.3,450.1C468.9,444.3 471.6,438.1 474.4,432.9C477.2,427.7 479.7,423.5 481.9,419.1C484.1,414.7 485.5,409.7 487.5,406.5C489.5,403.3 491.3,401.2 493.8,399.7C496.3,398.1 499.1,397.2 502.6,397.2C506.2,397.2 510.1,398.4 515.1,399.7C520.1,400.9 526.4,403.3 532.7,404.7C539.0,406.1 545.6,407.4 552.7,408.2C559.8,409.0 568.2,409.1 575.3,409.7C582.4,410.2 589.4,410.7 595.3,411.5C601.1,412.3 605.4,413.2 610.4,414.7C615.4,416.2 620.8,417.9 625.4,420.3C630.0,422.7 634.3,425.7 637.9,429.0C641.5,432.3 644.2,435.9 646.7,440.3C649.2,444.7 651.3,450.3 653.0,455.3C654.7,460.3 655.9,465.4 656.7,470.4C657.5,475.3 657.6,478.4 657.8,485.0C658.0,491.6 658.4,501.7 657.8,510.1C657.2,518.5 655.7,526.8 654.0,535.2C652.3,543.6 650.1,553.2 647.8,560.3C645.5,567.4 642.8,573.1 640.3,577.8C637.8,582.5 635.2,586.6 632.7,588.3C630.2,590.0 628.1,588.7 625.2,587.8C622.3,586.9 617.5,584.1 615.2,582.8C612.9,581.5 612.0,580.3 611.4,579.8L606,577L606,600L340,600Z"/>
<path fill="#FF5E04" d="M678.3,534.5C677.0,537.5 673.3,547.2 670.3,552.7C667.3,558.2 663.6,563.2 660.3,567.8C657.0,572.4 653.6,576.8 650.3,580.3C647.0,583.8 643.2,586.8 640.3,589.1C637.4,591.4 635.6,593.2 632.7,594.1C629.8,595.0 626.2,594.8 622.7,594.8C619.2,594.8 613.7,594.2 611.4,594.1C609.1,594.0 609.4,594.0 609.0,594.0L600,594L600,640L770,640L770,520L692,520L679,534Z"/>
<path fill="#FF6C0C" d="M694.1,556.5C691.8,558.8 685.2,565.9 680.4,570.3C675.6,574.7 670.3,579.5 665.3,582.8C660.3,586.1 655.3,588.0 650.3,590.3C645.3,592.6 639.8,594.9 635.2,596.6C630.6,598.3 627.1,598.8 622.7,600.3C618.3,601.8 611.2,604.5 608.9,605.4L600,607L600,640L770,640L770,540Z"/>
<path fill="#FF7614" d="M756.5,556.5C755.6,557.1 754.0,558.3 750.9,560.3C747.8,562.3 742.2,565.9 738.0,568.6C733.8,571.3 728.6,574.4 725.5,576.4C722.4,578.4 725.7,578.0 719.2,580.5C712.7,583.0 693.9,589.1 686.6,591.5C679.3,593.9 679.7,593.7 675.3,594.8C670.9,595.9 665.3,597.3 660.3,598.3C655.3,599.3 649.5,600.3 645.3,600.9C641.1,601.5 639.0,600.9 635.2,601.6C631.4,602.4 626.2,603.9 622.7,605.4C619.2,606.9 615.8,609.1 613.9,610.4C612.0,611.7 611.8,612.9 611.4,613.4L600,616L600,640L770,640L770,556Z"/>
<path fill="#FF7E1C" d="M650.0,606.0C649.8,606.2 651.0,607.1 648.5,607.5C646.0,607.9 639.1,607.7 635.2,608.4C631.3,609.1 628.1,610.2 625.2,611.6C622.3,613.0 619.5,615.1 617.7,616.6C616.0,618.1 615.4,619.4 614.7,620.4C614.1,621.4 613.9,622.1 613.8,622.5L613,640L660,640L660,606Z"/>
<path fill="#FF8424" d="M648.0,611.5C647.5,611.6 646.7,612.0 645.0,612.3C643.3,612.6 640.4,612.7 637.7,613.4C635.0,614.1 631.3,615.2 629.0,616.6C626.7,618.0 624.9,620.7 624.0,621.7C623.1,622.7 623.6,622.4 623.5,622.5L622,640L655,640L655,611Z"/>
<path fill="#FF8C2E" d="M642.0,616.5C641.5,616.6 640.8,616.6 639.0,617.0C637.2,617.4 633.4,618.4 631.5,619.1C629.6,619.8 628.3,620.7 627.7,621.0L626,640L650,640L650,617Z"/>
<path fill="#FF8424" d="M268.0,115.0C268.6,116.8 270.7,123.5 271.5,126.0C272.3,128.5 271.9,125.2 273.0,130.0C274.1,134.8 276.3,144.7 278.0,155.1C279.7,165.5 281.9,182.3 283.0,192.7C284.1,203.1 283.9,211.0 284.3,217.7C284.7,224.4 284.4,229.0 285.5,232.8C286.6,236.6 288.5,238.6 290.6,240.3C292.7,242.1 295.6,243.5 298.1,243.3C300.6,243.1 302.7,241.6 305.6,239.0C308.5,236.4 312.3,232.1 315.6,227.7C318.9,223.3 323.3,216.4 325.6,212.7C327.9,208.9 326.8,208.8 329.4,205.2C332.0,201.6 337.2,195.8 341.2,191.4C345.2,187.0 349.1,182.9 353.2,178.9C357.3,174.9 362.1,170.5 365.7,167.6C369.2,164.7 372.7,163.6 374.5,161.3C376.3,159.0 376.0,155.5 376.3,153.8C376.6,152.1 376.5,151.5 376.5,151.0L377,140L377,115Z"/>
<path fill="#FF7E1C" d="M545.0,98.0C545.8,98.1 545.8,98.0 550.0,98.8C554.2,99.6 562.5,101.1 570.0,103.0C577.5,104.9 588.7,108.3 595.0,110.0C601.3,111.7 602.7,112.1 607.7,113.0C612.7,113.9 619.6,114.9 625.0,115.6C630.4,116.3 637.3,116.8 639.8,117.0L648,118L648,80L545,80Z"/>
<path fill="#FF8424" d="M103.0,410.0C103.0,404.4 103.0,382.5 103.3,376.5C103.6,370.5 104.2,376.7 104.7,373.9C105.2,371.1 105.9,363.8 106.6,359.8C107.3,355.8 108.0,353.4 108.9,350.1C109.8,346.8 111.1,343.2 111.9,339.9C112.7,336.6 112.8,333.6 113.9,330.3C115.0,327.0 117.5,322.5 118.6,320.0C119.6,317.5 118.9,318.0 120.2,315.3C121.5,312.6 124.7,306.9 126.5,304.0C128.3,301.1 129.1,299.7 131.0,298.0C132.9,296.3 135.3,294.7 138.0,294.0C140.7,293.3 144.2,293.2 147.0,294.0C149.8,294.8 152.6,296.7 154.8,299.0C157.0,301.3 158.2,304.3 160.3,307.8C162.5,311.3 164.5,316.4 167.7,320.0C170.9,323.6 175.6,326.7 179.6,329.3C183.6,331.9 188.1,333.0 191.6,335.9C195.1,338.8 198.2,342.5 200.8,346.5C203.5,350.5 205.7,355.4 207.5,359.8C209.3,364.2 210.5,368.7 211.5,373.1C212.5,377.5 213.2,383.7 213.5,386.3C213.8,388.9 213.5,388.1 213.5,388.5L213.5,410Z"/>
<path fill="#FF8C2E" d="M121.0,410.0C121.0,405.3 120.8,388.1 121.0,382.0C121.2,375.9 121.1,377.0 121.9,373.1C122.7,369.2 124.0,363.6 125.9,358.5C127.8,353.4 130.2,346.8 133.2,342.6C136.2,338.4 140.7,335.3 143.8,333.3C146.9,331.3 149.0,330.8 152.0,330.5C155.0,330.2 158.6,330.1 162.0,331.5C165.4,332.9 168.9,336.9 172.3,339.2C175.7,341.5 179.1,342.6 182.3,345.2C185.5,347.8 189.1,351.2 191.6,354.5C194.1,357.8 196.1,361.3 197.5,365.1C198.9,368.9 199.6,372.7 200.2,377.1C200.8,381.5 200.7,388.4 200.8,391.7C200.9,395.0 200.8,396.1 200.8,397.0L200.8,410Z"/>
<path fill="#FF9638" d="M139.0,410.0C139.0,405.6 138.8,390.1 139.1,383.5C139.3,376.9 139.5,374.6 140.5,370.4C141.5,366.2 143.1,361.7 145.1,358.5C147.1,355.3 150.1,353.0 152.4,351.2C154.7,349.4 156.4,348.2 159.0,347.5C161.6,346.8 165.1,346.5 168.0,347.0C170.9,347.5 173.5,348.6 176.3,350.5C179.1,352.4 182.8,355.4 184.9,358.5C187.0,361.6 188.0,365.1 188.9,369.1C189.8,373.1 189.9,378.2 190.2,382.4C190.5,386.6 190.8,391.2 190.9,394.3C191.0,397.4 191.0,399.9 191.0,401.0L191,410Z"/>
<path fill="#FFA848" d="M156.4,410.0C156.4,406.1 156.4,393.0 156.4,386.5C156.4,380.0 156.1,374.2 156.4,371.0C156.7,367.8 157.1,368.3 158.0,367.5C158.9,366.7 159.7,366.5 162.0,366.3C164.3,366.1 169.7,366.1 172.0,366.3C174.3,366.5 175.1,366.7 176.0,367.5C176.9,368.3 177.3,367.6 177.6,371.0C177.9,374.4 177.6,385.2 177.6,388.0L177.6,410Z"/>
</g>
<g fill="none" stroke="#FFEC66" stroke-width="1.1" mask="url(#lm)">
<path d="M228.0,385.2C227.4,382.3 225.2,371.8 224.2,367.7C223.1,363.6 222.8,364.1 221.7,360.4C220.6,356.7 219.4,350.4 217.9,345.4C216.4,340.4 215.0,335.3 212.9,330.3C210.8,325.3 208.1,319.5 205.4,315.3C202.7,311.1 198.7,308.7 196.6,305.3C194.5,301.9 193.3,299.4 192.9,295.2C192.5,291.0 193.1,285.2 194.1,280.2C195.1,275.2 196.8,269.8 199.1,265.2C201.4,260.6 204.3,255.6 207.9,252.6C211.5,249.6 216.3,247.5 220.5,247.1C224.7,246.7 229.2,247.9 233.0,250.1C236.8,252.3 239.7,255.6 243.0,260.2C246.3,264.8 249.7,271.9 253.0,277.7C256.4,283.5 259.3,290.2 263.1,295.2C266.9,300.2 271.0,304.7 275.6,307.8C280.2,310.9 286.5,312.8 290.6,314.0C294.7,315.2 296.1,315.4 300.2,315.1C304.3,314.8 310.2,313.6 315.2,312.1C320.2,310.6 325.3,308.5 330.3,306.3C335.3,304.1 340.7,301.7 345.3,298.8C349.9,295.9 353.5,292.6 358.2,289.1C362.9,285.6 368.9,282.1 373.3,277.9C377.7,273.7 381.4,268.3 384.5,264.1C387.6,259.9 389.4,257.6 392.1,252.8C394.8,248.0 397.7,242.4 400.8,235.3C403.9,228.2 408.0,217.7 410.9,210.2C413.8,202.7 415.5,196.9 418.4,190.2C421.3,183.5 424.6,177.0 428.4,170.1C432.1,163.2 438.8,152.4 440.9,148.8"/>
<path d="M92.1,263.9C92.4,266.6 93.5,274.1 93.9,280.2C94.3,286.3 94.6,293.6 94.6,300.3C94.6,307.0 94.4,313.6 93.9,320.3C93.4,327.0 92.5,333.7 91.4,340.4C90.4,347.1 88.6,355.0 87.6,360.4C86.5,365.8 85.5,370.6 85.1,372.7"/>
<path d="M70.6,317.0C70.6,317.6 70.3,317.2 70.6,320.3C70.9,323.4 72.5,330.3 72.6,335.3C72.7,340.3 72.3,346.2 71.3,350.4C70.2,354.6 67.4,358.3 66.3,360.4C65.2,362.5 64.8,362.6 64.5,363.0"/>
<path d="M345.3,359.7C347.8,358.5 355.3,354.7 360.3,352.7C365.3,350.7 370.4,349.1 375.4,347.6C380.4,346.1 385.4,345.0 390.4,343.9C395.4,342.8 400.8,341.5 405.4,340.9C410.0,340.3 414.0,340.4 418.0,340.1C422.0,339.8 424.0,339.5 429.2,338.9C434.4,338.3 444.7,339.1 449.3,336.4C453.9,333.7 454.7,327.8 456.8,322.6C458.9,317.4 460.9,310.4 461.8,305.0C462.7,299.6 462.1,294.1 462.2,290.0C462.3,285.9 462.6,285.3 462.2,280.4C461.8,275.4 460.9,267.0 459.7,260.3C458.4,253.6 455.9,246.2 454.7,240.3C453.4,234.5 452.2,229.4 452.2,225.2C452.2,221.0 453.2,218.1 454.7,215.2C456.2,212.3 458.3,209.2 461.0,207.7C463.7,206.2 467.2,206.0 471.0,206.4C474.8,206.8 478.9,207.9 483.5,210.2C488.1,212.5 492.8,216.6 498.6,220.2C504.5,223.8 511.7,227.8 518.6,231.5C525.5,235.2 533.6,239.1 540.1,242.6C546.6,246.1 551.8,250.1 557.6,252.7C563.5,255.3 570.2,257.3 575.2,258.2C580.2,259.1 582.7,259.0 587.7,258.2C592.7,257.4 599.0,254.9 605.3,253.2C611.6,251.5 617.8,249.4 625.3,248.1C632.8,246.8 642.0,246.7 650.4,245.6C658.8,244.5 667.0,243.2 675.4,241.4C683.8,239.7 693.0,236.6 700.5,235.1C708.0,233.6 714.8,232.9 720.6,232.6C726.5,232.3 730.6,232.3 735.6,233.1C740.6,233.9 747.4,236.4 750.6,237.6C753.8,238.8 751.3,237.5 755.0,240.2C758.7,242.9 766.8,247.8 772.6,253.9C778.5,259.9 784.7,268.4 790.1,276.5C795.5,284.6 800.6,294.2 805.2,302.8C809.8,311.4 814.6,320.9 817.7,327.9C820.9,334.9 822.2,338.4 824.1,345.0C826.0,351.6 827.9,359.7 829.1,367.6C830.4,375.6 831.4,384.4 831.6,392.7C831.8,401.0 831.1,409.3 830.3,417.7C829.5,426.1 827.2,438.6 826.6,442.8"/>
<path d="M400.4,392.3C402.9,391.3 410.9,388.3 415.5,386.5C420.1,384.7 424.7,383.0 428.0,381.5C431.3,380.0 432.6,379.4 435.5,377.7C438.4,376.0 441.1,374.4 445.5,371.5C449.9,368.6 457.7,363.3 461.8,360.2C465.9,357.1 466.1,356.4 470.0,352.6C473.9,348.8 480.0,341.7 485.0,337.5C490.0,333.3 495.4,329.7 500.0,327.5C504.6,325.3 507.1,324.9 512.5,324.1C517.9,323.3 526.3,323.2 532.6,322.8C538.9,322.4 543.8,322.6 550.1,321.6C556.4,320.6 562.7,318.3 570.2,316.6C577.7,314.9 586.9,313.2 595.2,311.6C603.6,310.1 611.9,308.4 620.3,307.3C628.7,306.2 637.0,305.5 645.4,304.8C653.8,304.1 663.3,303.6 670.4,303.3C677.5,303.1 683.0,302.6 688.0,303.3C693.0,304.0 695.9,305.1 700.5,307.3C705.1,309.5 710.9,313.2 715.5,316.6C720.1,320.0 724.3,323.4 728.1,327.8C731.9,332.2 735.7,339.2 738.1,342.9C740.5,346.6 740.4,345.2 742.6,350.1C744.8,355.1 749.1,364.7 751.4,372.6C753.7,380.5 755.4,390.2 756.4,397.7C757.4,405.2 757.4,410.2 757.1,417.7C756.8,425.2 755.8,434.9 754.6,442.8C753.4,450.7 750.9,461.6 750.1,465.3"/>
<path d="M419.2,430.4C421.1,429.1 426.5,425.7 430.5,422.8C434.5,419.9 439.6,415.3 443.0,412.8C446.4,410.3 447.9,410.0 450.6,407.8C453.3,405.6 456.1,403.2 459.3,399.8C462.5,396.4 466.1,391.6 470.0,387.7C473.9,383.8 477.9,379.8 482.5,376.4C487.1,373.0 492.6,369.5 497.6,367.6C502.6,365.7 507.6,365.4 512.6,365.1C517.6,364.8 522.6,365.4 527.6,365.9C532.6,366.4 537.7,368.0 542.7,368.1C547.7,368.2 552.3,367.3 557.7,366.4C563.1,365.5 569.0,363.7 575.3,362.6C581.6,361.5 587.8,360.4 595.3,359.6C602.8,358.8 612.0,358.0 620.4,357.6C628.8,357.2 637.0,357.2 645.4,357.1C653.8,357.0 664.7,356.9 670.5,356.9C676.3,356.8 678.1,356.9 680.2,356.8C682.3,356.7 682.4,356.1 683.3,356.4C684.2,356.7 685.0,357.5 685.7,358.4C686.4,359.3 686.5,359.3 687.5,362.0C688.5,364.7 690.1,370.4 691.6,374.4C693.1,378.3 694.9,381.8 696.2,385.7C697.5,389.6 698.6,393.9 699.5,398.0C700.4,402.1 701.1,404.8 701.8,410.2C702.5,415.6 703.4,423.6 703.6,430.3C703.8,437.0 703.6,443.6 703.1,450.3C702.6,457.0 701.7,463.8 700.6,470.4C699.5,477.0 697.7,485.8 696.8,489.9C695.9,494.0 695.3,494.1 695.0,495.0"/>
<path d="M678.3,534.5C677.0,537.5 673.3,547.2 670.3,552.7C667.3,558.2 663.6,563.2 660.3,567.8C657.0,572.4 653.6,576.8 650.3,580.3C647.0,583.8 643.2,586.8 640.3,589.1C637.4,591.4 635.6,593.2 632.7,594.1C629.8,595.0 626.2,594.8 622.7,594.8C619.2,594.8 613.7,594.2 611.4,594.1C609.1,594.0 609.4,594.0 609.0,594.0"/>
<path d="M437.7,481.4C440.2,479.1 448.2,472.8 452.8,467.6C457.4,462.4 461.7,455.9 465.3,450.1C468.9,444.3 471.6,438.1 474.4,432.9C477.2,427.7 479.7,423.5 481.9,419.1C484.1,414.7 485.5,409.7 487.5,406.5C489.5,403.3 491.3,401.2 493.8,399.7C496.3,398.1 499.1,397.2 502.6,397.2C506.2,397.2 510.1,398.4 515.1,399.7C520.1,400.9 526.4,403.3 532.7,404.7C539.0,406.1 545.6,407.4 552.7,408.2C559.8,409.0 568.2,409.1 575.3,409.7C582.4,410.2 589.4,410.7 595.3,411.5C601.1,412.3 605.4,413.2 610.4,414.7C615.4,416.2 620.8,417.9 625.4,420.3C630.0,422.7 634.3,425.7 637.9,429.0C641.5,432.3 644.2,435.9 646.7,440.3C649.2,444.7 651.3,450.3 653.0,455.3C654.7,460.3 655.9,465.4 656.7,470.4C657.5,475.3 657.6,478.4 657.8,485.0C658.0,491.6 658.4,501.7 657.8,510.1C657.2,518.5 655.7,526.8 654.0,535.2C652.3,543.6 650.1,553.2 647.8,560.3C645.5,567.4 642.8,573.1 640.3,577.8C637.8,582.5 635.2,586.6 632.7,588.3C630.2,590.0 628.1,588.7 625.2,587.8C622.3,586.9 617.5,584.1 615.2,582.8C612.9,581.5 612.0,580.3 611.4,579.8"/>
<path d="M387.6,510.2C390.1,508.9 398.1,505.0 402.7,502.7C407.3,500.4 411.2,498.4 415.2,496.4C419.2,494.4 424.6,491.8 426.5,490.9"/>
<path d="M358.8,549.0C358.8,551.3 358.8,560.7 358.8,563.0"/>
<path d="M694.1,556.5C691.8,558.8 685.2,565.9 680.4,570.3C675.6,574.7 670.3,579.5 665.3,582.8C660.3,586.1 655.3,588.0 650.3,590.3C645.3,592.6 639.8,594.9 635.2,596.6C630.6,598.3 627.1,598.8 622.7,600.3C618.3,601.8 611.2,604.5 608.9,605.4"/>
<path d="M751.8,460.0C751.6,461.1 750.7,465.7 750.5,466.8"/>
<path d="M756.5,556.5C755.6,557.1 754.0,558.3 750.9,560.3C747.8,562.3 742.2,565.9 738.0,568.6C733.8,571.3 728.6,574.4 725.5,576.4C722.4,578.4 720.2,579.8 719.2,580.5"/>
<path d="M686.6,591.5C684.7,592.0 679.7,593.7 675.3,594.8C670.9,595.9 665.3,597.3 660.3,598.3C655.3,599.3 649.5,600.3 645.3,600.9C641.1,601.5 639.0,600.9 635.2,601.6C631.4,602.4 626.2,603.9 622.7,605.4C619.2,606.9 615.8,609.1 613.9,610.4C612.0,611.7 611.8,612.9 611.4,613.4"/>
<path d="M648.5,607.5C646.3,607.6 639.1,607.7 635.2,608.4C631.3,609.1 628.1,610.2 625.2,611.6C622.3,613.0 619.5,615.1 617.7,616.6C616.0,618.1 615.4,619.4 614.7,620.4C614.1,621.4 613.9,622.1 613.8,622.5"/>
<path d="M645.0,612.3C643.8,612.5 640.4,612.7 637.7,613.4C635.0,614.1 631.3,615.2 629.0,616.6C626.7,618.0 624.9,620.7 624.0,621.7C623.1,622.7 623.6,622.4 623.5,622.5" stroke-opacity="0.8"/>
<path d="M639.0,617.0C637.8,617.4 633.4,618.4 631.5,619.1C629.6,619.8 628.3,620.7 627.7,621.0" stroke-opacity="0.8"/>
<path d="M271.5,126.0C271.8,126.7 271.9,125.2 273.0,130.0C274.1,134.8 276.3,144.7 278.0,155.1C279.7,165.5 281.9,182.3 283.0,192.7C284.1,203.1 283.9,211.0 284.3,217.7C284.7,224.4 284.4,229.0 285.5,232.8C286.6,236.6 288.5,238.6 290.6,240.3C292.7,242.1 295.6,243.5 298.1,243.3C300.6,243.1 302.7,241.6 305.6,239.0C308.5,236.4 312.3,232.1 315.6,227.7C318.9,223.3 323.3,216.4 325.6,212.7C327.9,208.9 326.8,208.8 329.4,205.2C332.0,201.6 337.2,195.8 341.2,191.4C345.2,187.0 349.1,182.9 353.2,178.9C357.3,174.9 362.1,170.5 365.7,167.6C369.2,164.7 372.7,163.6 374.5,161.3C376.3,159.0 376.0,155.5 376.3,153.8C376.6,152.1 376.5,151.5 376.5,151.0"/>
<path d="M550.0,98.8C553.3,99.5 562.5,101.1 570.0,103.0C577.5,104.9 588.7,108.3 595.0,110.0C601.3,111.7 602.7,112.1 607.7,113.0C612.7,113.9 619.6,114.9 625.0,115.6C630.4,116.3 637.3,116.8 639.8,117.0"/>
<path d="M103.3,376.5C103.5,376.1 104.2,376.7 104.7,373.9C105.2,371.1 105.9,363.8 106.6,359.8C107.3,355.8 108.0,353.4 108.9,350.1C109.8,346.8 111.1,343.2 111.9,339.9C112.7,336.6 112.8,333.6 113.9,330.3C115.0,327.0 117.5,322.5 118.6,320.0C119.6,317.5 118.9,318.0 120.2,315.3C121.5,312.6 124.7,306.9 126.5,304.0C128.3,301.1 129.1,299.7 131.0,298.0C132.9,296.3 135.3,294.7 138.0,294.0C140.7,293.3 144.2,293.2 147.0,294.0C149.8,294.8 152.6,296.7 154.8,299.0C157.0,301.3 158.2,304.3 160.3,307.8C162.5,311.3 164.5,316.4 167.7,320.0C170.9,323.6 175.6,326.7 179.6,329.3C183.6,331.9 188.1,333.0 191.6,335.9C195.1,338.8 198.2,342.5 200.8,346.5C203.5,350.5 205.7,355.4 207.5,359.8C209.3,364.2 210.5,368.7 211.5,373.1C212.5,377.5 213.2,383.7 213.5,386.3C213.8,388.9 213.5,388.1 213.5,388.5" stroke-opacity="0.8"/>
<path d="M121.0,382.0C121.2,380.5 121.1,377.0 121.9,373.1C122.7,369.2 124.0,363.6 125.9,358.5C127.8,353.4 130.2,346.8 133.2,342.6C136.2,338.4 140.7,335.3 143.8,333.3C146.9,331.3 149.0,330.8 152.0,330.5C155.0,330.2 158.6,330.1 162.0,331.5C165.4,332.9 168.9,336.9 172.3,339.2C175.7,341.5 179.1,342.6 182.3,345.2C185.5,347.8 189.1,351.2 191.6,354.5C194.1,357.8 196.1,361.3 197.5,365.1C198.9,368.9 199.6,372.7 200.2,377.1C200.8,381.5 200.7,388.4 200.8,391.7C200.9,395.0 200.8,396.1 200.8,397.0" stroke-opacity="0.6"/>
<path d="M139.1,383.5C139.3,381.3 139.5,374.6 140.5,370.4C141.5,366.2 143.1,361.7 145.1,358.5C147.1,355.3 150.1,353.0 152.4,351.2C154.7,349.4 156.4,348.2 159.0,347.5C161.6,346.8 165.1,346.5 168.0,347.0C170.9,347.5 173.5,348.6 176.3,350.5C179.1,352.4 182.8,355.4 184.9,358.5C187.0,361.6 188.0,365.1 188.9,369.1C189.8,373.1 189.9,378.2 190.2,382.4C190.5,386.6 190.8,391.2 190.9,394.3C191.0,397.4 191.0,399.9 191.0,401.0" stroke-opacity="0.6"/>
<path d="M241.5,356.0C241.8,355.7 242.1,354.6 243.0,354.3C243.9,354.0 245.8,353.7 247.0,354.0C248.2,354.3 249.3,355.2 250.0,356.0C250.7,356.8 251.2,357.9 251.3,359.0C251.4,360.1 251.2,361.4 250.5,362.5C249.8,363.6 248.2,364.8 247.0,365.5C245.8,366.2 243.9,366.6 243.0,366.5C242.1,366.4 241.8,366.1 241.5,365.0C241.2,363.9 241.3,361.5 241.3,360.0C241.3,358.5 241.5,356.7 241.5,356.0"/>
<path d="M156.4,386.5V370.5M177.6,388V370.5" stroke-opacity="0.6"/>
</g>
</g>
<g fill="none" stroke="#000" stroke-width="1.15" stroke-linejoin="round"><polygon points="124.6,230.0 125.8,228.1 127.0,226.1 129.1,224.8 130.3,222.9 132.1,221.5 134.4,221.4 136.3,220.4 138.1,219.2 140.4,219.1 142.5,218.9 144.5,217.9 146.6,218.4 147.5,216.4 147.9,214.1 148.9,212.1 150.4,210.4 150.3,207.9 150.9,205.4 150.4,202.9 149.0,201.0 148.3,198.9 147.9,196.6 146.5,195.2 144.9,194.1 147.1,193.6 148.7,192.1 150.4,190.7 152.4,189.8 150.9,187.7 148.1,187.3 146.6,185.3 146.1,183.1 144.3,181.4 143.1,179.5 142.1,177.6 141.6,175.3 140.1,173.6 139.5,171.3 137.5,169.9 136.6,167.8 135.2,166.2 133.7,164.7 132.0,163.4 130.7,161.7 129.1,160.3 128.9,157.7 129.2,155.1 130.3,152.7 129.1,150.8 128.9,148.5 127.8,146.5 127.6,144.4 127.3,142.4 127.6,140.3 127.3,138.2 129.3,137.4 131.2,136.4 133.5,136.4 135.3,135.2 137.2,136.6 139.5,137.1 141.3,138.6 143.4,139.6 145.4,140.7 147.5,139.2 149.0,137.3 150.4,135.2 152.3,133.9 154.7,133.8 156.1,131.7 158.3,131.1 160.4,130.2 161.2,128.2 160.8,125.9 161.7,123.9 163.4,122.7 164.6,120.9 166.7,120.2 169.0,120.2 171.3,120.2 173.6,119.7 176.0,119.9 178.2,118.8 180.5,118.9 183.0,118.8 185.5,118.3 188.0,117.9 190.5,117.4 193.0,117.1 195.0,117.0 197.0,116.5 198.6,115.2 200.5,114.6 203.0,115.2 205.6,114.6 208.0,115.6 210.5,116.1 213.0,116.2 215.4,116.9 218.0,116.4 220.4,117.4 223.1,117.2 225.6,118.1 227.6,117.4 229.8,117.2 231.8,116.4 234.1,116.1 236.2,117.2 238.5,117.2 240.6,118.1 243.2,118.1 245.7,118.5 248.0,120.1 250.6,120.2 253.2,119.9 255.7,120.4 258.2,120.9 260.7,121.4 262.8,123.0 265.6,123.0 267.7,124.6 270.0,125.7 272.2,125.8 274.4,126.3 276.6,126.2 278.8,125.7 280.6,127.3 283.1,127.5 285.0,128.9 287.5,128.6 290.0,128.3 292.5,128.9 295.1,128.8 297.5,127.4 300.0,127.7 301.1,129.4 301.7,131.3 302.3,133.2 302.6,135.2 304.5,136.7 306.4,138.2 308.9,138.5 311.4,138.2 314.0,138.0 316.4,138.9 318.7,138.5 321.0,138.1 323.4,138.1 325.7,137.7 325.4,140.0 326.2,142.1 326.8,144.3 327.2,146.5 328.7,144.9 330.2,143.3 331.4,141.5 331.4,139.2 332.7,137.2 334.3,138.6 336.3,139.3 338.1,140.3 340.2,140.7 342.6,139.6 344.3,137.7 346.5,136.4 348.1,135.4 349.6,134.2 351.5,133.9 352.6,135.6 354.5,136.6 355.8,138.2 356.5,140.2 358.7,140.2 360.8,140.6 362.8,141.5 365.3,141.0 367.7,140.3 370.3,140.7 372.2,142.2 373.2,144.3 374.0,146.5 375.8,148.3 376.5,150.7 376.9,148.6 377.1,146.5 378.9,144.9 379.0,142.7 381.2,142.0 383.0,140.5 385.3,140.2 387.2,139.1 389.2,138.5 391.2,137.7 393.1,136.6 395.3,136.4 396.2,138.3 397.3,140.0 399.2,141.1 400.4,142.7 401.2,144.7 402.5,146.5 403.2,148.5 403.6,150.6 404.1,152.7 406.3,152.1 408.6,152.6 410.6,151.3 412.9,151.5 413.6,149.6 415.9,149.1 416.6,147.2 418.7,146.6 420.6,145.4 422.9,145.2 424.1,147.1 425.4,149.0 427.7,147.7 430.4,147.8 433.1,147.8 435.4,146.5 437.7,147.0 439.9,146.8 442.2,146.1 444.4,146.3 446.7,146.5 448.6,147.4 449.6,149.3 451.4,150.3 453.0,151.5 453.5,153.6 454.9,155.2 455.5,157.2 457.8,157.9 459.5,159.7 461.8,160.3 464.3,161.0 466.8,160.3 467.7,158.5 468.0,156.7 468.0,154.7 467.5,152.5 466.5,150.5 464.9,148.7 464.3,146.5 463.7,144.6 462.8,142.8 461.8,141.0 461.8,138.9 461.8,136.8 462.7,135.0 463.3,133.2 464.3,131.4 465.8,129.7 467.4,128.0 468.0,125.7 469.3,123.9 471.3,123.2 472.9,122.0 474.4,120.7 475.5,118.9 477.1,117.1 478.6,115.3 480.6,113.9 480.6,111.3 481.0,108.8 481.8,106.4 484.2,105.6 486.8,105.9 489.4,106.0 491.8,105.1 493.2,106.5 495.1,107.1 496.8,108.1 498.6,106.9 500.5,105.6 501.9,103.9 504.2,103.4 506.4,104.4 508.6,104.9 510.8,104.9 513.1,104.6 515.3,105.3 517.7,105.2 520.0,105.6 522.2,105.1 524.4,106.0 526.6,105.3 528.8,105.6 529.7,107.5 531.3,108.9 533.2,110.0 535.5,109.5 537.5,110.1 539.5,108.7 542.0,108.2 543.8,106.4 545.6,105.4 546.6,103.5 548.2,102.2 550.1,101.4 549.5,98.9 550.5,96.3 550.2,93.8 549.6,91.3 551.5,90.0 553.8,89.6 555.8,90.8 558.0,91.8 560.3,92.1 562.6,92.6 565.2,93.0 567.6,94.0 570.1,94.6 572.1,93.6 574.2,93.0 576.4,93.3 578.9,95.1 581.0,94.4 582.4,92.7 583.9,91.3 585.8,90.3 588.0,89.8 589.5,88.1 591.4,87.1 593.5,88.1 595.7,88.4 598.1,87.9 600.2,88.8 602.4,89.3 604.5,90.2 606.5,91.3 608.5,90.4 610.7,90.3 612.7,89.6 614.5,88.8 616.5,88.5 618.3,87.6 620.3,87.6 621.5,89.7 623.8,90.8 625.3,92.6 627.0,94.2 628.5,96.0 630.3,97.6 631.6,99.3 633.7,100.0 635.3,101.4 634.3,103.3 634.4,105.5 634.0,107.6 635.2,109.2 636.5,110.8 638.3,111.9 639.0,113.9 640.3,115.8 641.9,117.4 642.8,119.6 645.2,120.0 646.8,122.1 649.1,122.7 650.8,124.7 651.6,127.2 651.0,129.3 650.3,131.4 647.7,131.5 645.3,132.2 642.8,132.7 640.6,133.8 638.1,134.3 635.8,135.2 637.2,136.9 638.5,138.8 640.3,140.2 642.0,141.5 642.8,143.6 644.1,145.2 643.9,147.4 643.2,149.5 642.3,151.5 642.8,153.3 644.0,154.8 644.8,156.5 643.7,158.1 642.3,159.6 641.6,161.5 643.2,163.0 645.3,163.3 647.8,162.6 650.3,162.3 652.8,161.5 655.0,161.7 657.2,161.9 659.4,162.4 661.6,162.3 662.5,163.9 663.2,165.7 664.1,167.3 666.3,167.1 668.6,167.6 670.7,167.0 672.9,166.5 675.0,166.3 676.9,165.6 678.4,163.9 680.4,163.5 682.0,164.2 683.5,165.3 685.4,165.3 685.3,167.9 686.8,170.2 686.7,172.8 688.7,173.3 690.1,174.7 691.7,175.8 693.5,175.0 695.5,175.1 697.4,175.3 698.3,177.7 697.9,180.3 697.1,182.1 696.7,184.1 698.0,186.2 700.0,187.8 699.4,190.3 700.0,192.8 701.7,194.4 702.5,196.6 701.7,198.6 701.3,200.7 701.0,202.9 700.9,204.7 699.3,206.0 699.2,207.9 699.4,209.9 701.2,211.0 701.7,212.9 703.0,214.7 705.1,215.2 706.7,216.6 707.2,218.3 706.9,220.2 708.0,221.7 710.1,222.2 712.1,221.2 714.2,221.7 715.8,220.4 717.5,219.2 719.2,217.9 721.4,217.3 723.5,216.8 725.8,216.7 728.0,216.6 729.8,217.5 732.0,217.2 733.6,218.6 735.5,219.1 737.2,219.9 739.2,220.2 740.5,221.7 742.0,223.7 743.1,225.9 745.6,226.4 748.1,226.5 750.6,226.7 752.8,227.5 753.9,230.0 755.9,231.1 758.0,232.1 760.1,231.0 761.3,228.9 763.2,227.3 765.5,226.4 767.6,225.1 770.1,224.6 772.5,224.5 774.5,223.3 776.8,222.6 779.1,222.5 781.4,222.1 783.8,221.9 785.9,220.9 787.8,219.3 790.1,218.8 791.9,217.7 794.3,218.2 796.1,217.0 798.1,216.3 798.3,218.5 799.7,220.4 799.6,222.6 801.9,223.0 803.5,224.9 805.7,225.6 806.2,227.7 807.1,229.6 806.2,231.9 807.2,233.9 808.4,235.6 809.6,237.3 811.8,238.2 812.7,240.2 814.3,241.8 816.8,241.9 818.0,244.0 820.2,244.7 821.5,246.4 822.9,248.0 823.9,249.8 824.7,251.9 826.5,253.2 828.4,251.9 830.4,250.7 832.7,250.2 832.9,248.0 832.6,245.8 832.5,243.6 833.2,241.4 835.1,240.7 837.0,240.4 839.0,240.9 840.2,242.3 840.9,244.0 841.5,245.7 843.7,246.5 845.5,248.2 847.8,248.9 849.9,248.2 852.2,248.1 854.2,247.2 856.5,247.2 857.5,248.8 858.8,250.2 859.0,252.2 861.3,253.3 863.6,254.4 865.3,256.4 866.7,258.1 868.6,259.3 870.3,260.7 872.2,259.3 874.5,258.7 876.6,257.7 878.8,257.3 880.2,255.2 882.4,254.7 883.0,256.9 884.5,258.7 885.4,260.7 887.5,262.0 889.3,263.8 891.6,264.7 893.8,264.7 896.0,265.0 898.2,265.4 900.4,265.2 901.0,267.7 903.1,269.3 904.2,271.5 905.8,273.0 907.8,273.9 909.7,274.8 911.7,275.7 914.2,275.2 916.7,274.8 919.2,274.7 921.4,273.7 923.8,273.4 926.1,272.9 928.5,273.2 928.5,274.9 929.2,276.5 927.8,278.1 926.2,279.4 924.2,280.3 926.0,282.0 926.3,284.7 928.0,286.5 928.4,288.6 929.6,290.4 931.1,292.0 931.7,294.0 931.2,295.8 930.3,297.5 929.2,299.0 927.2,300.3 925.3,302.0 923.0,302.8 921.4,304.7 919.9,306.7 917.9,308.3 915.6,308.5 913.5,309.3 911.7,310.8 909.6,311.8 907.7,313.3 905.4,314.1 906.6,316.3 908.9,317.2 910.4,319.1 911.8,320.6 912.9,322.4 915.3,321.3 917.9,321.5 920.5,321.2 923.0,320.9 924.0,322.5 925.0,324.1 923.8,325.9 922.0,327.0 920.5,328.4 918.4,328.7 916.6,327.8 914.7,327.6 912.9,326.6 911.5,328.8 910.5,331.2 908.4,332.9 908.5,335.6 907.6,338.0 906.7,340.4 908.8,341.2 910.5,342.8 912.5,343.8 913.3,345.7 913.8,347.8 915.0,349.5 915.8,351.5 916.7,353.4 918.0,355.1 916.8,356.6 916.8,358.5 916.0,360.1 918.1,361.4 919.4,363.7 921.8,364.6 921.6,366.5 920.5,368.1 918.8,369.4 917.3,370.9 916.0,372.6 915.6,375.0 913.5,376.6 913.0,378.9 911.8,380.3 911.5,382.2 911.0,383.9 911.1,386.5 911.8,388.9 910.5,390.6 910.0,392.7 907.7,393.5 905.2,393.3 902.9,393.6 900.5,393.9 898.1,392.8 895.6,392.3 893.0,392.2 890.6,391.4 888.0,391.5 885.5,391.4 883.0,390.8 880.5,391.1 877.9,391.1 875.4,391.4 873.2,391.6 871.0,391.8 868.8,391.4 866.7,390.7 864.2,395.7 862.4,401.4 855.4,404.7 847.9,406.4 840.4,409.7 837.3,416.5 837.3,424.0 835.3,429.0 839.8,430.3 836.6,434.0 835.3,440.3 832.8,445.3 829.1,447.3 829.1,442.8 822.8,442.8 815.3,444.0 805.3,444.0 800.3,447.3 795.2,452.8 791.5,457.8 789.0,454.1 780.2,455.3 772.7,460.3 768.2,466.6 765.7,473.4 763.9,472.9 766.4,467.3 761.4,464.8 753.9,466.6 746.4,469.1 740.1,475.4 737.6,481.1 734.6,482.9 738.8,474.9 733.8,472.4 726.3,472.9 720.1,473.4 712.5,480.4 705.0,485.9 700.0,488.4 695.4,495.1 691.6,502.6 687.9,513.9 682.9,525.2 678.3,533.9 685.4,544.0 692.9,554.0 699.1,561.5 704.2,564.0 712.9,560.3 716.7,557.2 718.4,552.2 721.0,553.2 723.0,557.7 729.2,557.7 731.7,554.0 738.0,551.5 745.5,552.2 753.0,554.0 758.0,556.5 757.5,560.3 751.8,562.3 748.0,565.3 749.3,572.8 748.5,579.8 740.5,581.6 733.0,582.3 725.5,582.8 720.5,584.1 716.7,579.8 712.9,576.5 706.7,575.8 701.7,577.8 697.9,582.8 697.4,586.6 692.9,585.3 689.1,590.3 685.4,592.8 684.9,596.6 680.4,595.3 672.8,596.6 665.3,598.6 657.8,601.6 651.5,605.4 647.8,610.4 641.5,615.4 635.2,617.9 627.7,620.4 620.2,624.2 615.2,622.9 611.4,617.9 606.4,615.4 601.4,613.4 602.7,610.4 608.2,609.1 609.7,602.9 608.9,595.3 611.4,587.8 610.2,581.6 606.4,575.3 602.7,572.3 595.1,574.0 588.9,570.3 582.6,565.3 577.6,561.5 570.1,560.3 562.6,563.3 557.0,560.3 556.3,555.7 562.6,551.5 570.1,547.7 573.8,544.0 580.1,538.9 590.1,533.9 591.4,531.4 600.2,528.9 606.4,525.7 613.9,524.7 615.2,526.4 618.2,521.4 613.9,520.2 611.4,515.6 612.7,508.9 610.2,506.4 607.2,508.9 607.2,513.9 602.7,512.6 598.9,511.4 593.9,508.9 592.6,502.6 590.9,507.6 587.6,508.9 583.9,506.4 581.4,508.9 572.6,509.6 565.1,510.1 560.1,511.4 555.0,510.1 540.0,507.1 525.5,503.2 515.4,501.5 511.7,496.4 510.4,490.2 506.7,483.9 500.4,478.9 491.6,476.4 482.9,477.6 474.1,480.2 472.3,483.9 472.8,491.4 469.1,498.9 464.1,506.5 457.8,514.0 452.8,520.3 445.3,527.8 437.7,534.0 430.2,540.3 424.0,545.3 418.9,549.8 421.5,551.6 425.2,552.8 424.7,562.9 424.0,570.4 422.3,570.4 420.7,569.9 419.4,567.7 419.7,565.0 418.5,562.7 417.7,560.4 416.6,559.0 415.3,557.7 413.9,556.6 411.9,555.9 409.8,555.7 407.7,555.3 405.7,556.5 403.2,555.9 401.0,556.4 398.9,557.3 397.0,558.1 395.1,558.8 393.2,559.4 391.4,560.4 390.2,562.5 387.8,563.5 386.4,565.4 384.6,565.1 382.8,564.7 381.4,563.4 379.7,565.3 377.6,566.6 376.3,569.1 374.3,568.5 372.1,569.1 370.1,568.4 368.4,567.3 366.6,566.2 364.5,566.2 362.6,565.4 360.4,564.3 358.4,562.9 356.3,561.6 355.3,559.8 354.1,558.0 352.5,556.6 351.8,554.9 351.0,553.2 350.0,551.6 350.8,549.9 352.2,548.7 353.8,547.8 356.0,547.9 357.9,549.0 360.1,549.1 361.7,549.4 363.1,550.3 363.4,548.2 362.8,546.1 363.8,544.1 364.6,542.4 366.3,541.6 365.1,539.6 364.9,537.3 363.8,535.3 366.0,534.3 368.1,533.0 370.1,531.5 372.0,530.2 374.2,529.4 376.3,528.3 376.4,526.3 376.6,524.3 376.3,522.2 377.1,520.3 379.6,519.5 381.4,517.7 383.1,516.7 385.1,516.5 386.6,514.7 387.4,512.5 387.6,510.2 387.6,508.1 388.9,506.5 388.0,504.9 387.7,503.0 386.4,501.5 387.5,500.0 387.1,498.1 387.6,496.4 386.7,494.5 386.0,492.5 386.4,490.2 384.8,488.5 384.6,486.4 386.5,485.3 388.0,483.5 390.1,482.7 392.2,481.9 394.6,481.7 396.4,480.2 398.3,479.6 400.2,480.2 399.7,482.7 400.2,485.2 399.6,487.7 400.2,490.2 401.3,488.2 401.5,485.9 402.7,483.9 405.7,483.2 405.8,485.1 407.1,486.5 407.7,488.2 408.4,486.3 409.6,484.8 411.4,483.9 412.7,485.6 414.0,487.2 415.2,488.9 416.6,490.0 418.1,491.1 418.9,492.7 419.6,490.5 420.4,488.4 421.5,486.4 423.4,486.6 425.2,485.7 426.7,487.0 426.5,489.2 427.7,490.7 430.1,491.6 432.7,491.4 434.7,490.3 437.1,490.9 439.0,489.7 441.3,489.3 443.3,488.2 441.9,486.6 439.7,486.3 438.1,485.1 436.5,483.9 434.7,482.8 433.6,480.8 431.5,480.2 432.7,478.2 433.4,475.9 434.7,473.9 434.8,471.8 434.7,469.7 435.2,467.6 433.7,466.0 432.8,464.1 432.9,461.8 431.5,460.1 429.7,459.6 428.5,457.8 426.5,457.6 424.2,456.7 422.1,455.4 420.2,453.8 418.5,453.0 416.7,452.5 415.2,451.3 415.7,449.6 417.2,448.2 417.2,446.3 416.1,444.6 414.5,443.5 412.7,442.6 414.1,441.5 415.6,440.5 416.4,438.8 416.7,436.2 415.7,433.8 415.2,431.3 415.3,428.8 414.7,426.3 413.0,427.8 410.7,427.6 408.9,428.8 407.6,427.3 406.7,425.4 405.3,423.9 403.9,422.5 401.9,421.5 400.2,420.0 398.1,419.5 396.7,417.8 396.4,415.8 394.5,414.7 394.2,412.8 395.4,411.5 396.5,410.1 397.9,409.0 397.5,406.8 398.0,404.6 398.2,402.4 397.4,400.3 398.1,398.4 399.6,397.1 400.4,395.3 399.9,392.8 399.9,390.3 398.9,388.2 397.6,386.2 396.7,384.0 394.3,384.8 391.7,384.7 389.4,384.5 387.4,383.8 385.4,382.7 384.2,380.6 382.1,379.4 380.4,377.7 379.3,375.3 379.1,372.7 377.1,371.7 375.1,371.2 372.9,371.5 370.4,371.6 367.8,372.0 365.3,371.5 364.4,373.4 363.3,375.2 361.6,376.5 360.1,374.7 358.6,373.0 357.8,370.7 356.1,371.8 354.1,372.2 352.5,370.5 351.7,368.3 350.3,366.4 348.3,365.4 346.2,365.2 344.0,365.2 343.0,363.6 342.2,361.9 341.5,360.2 339.4,359.3 337.3,358.7 335.3,357.7 333.5,356.2 331.5,354.8 330.3,352.7 328.5,352.3 327.2,350.7 325.2,350.7 323.0,350.9 321.1,350.0 319.0,349.6 316.8,350.5 314.6,351.2 312.7,352.7 310.7,353.5 308.6,353.8 306.4,353.9 304.8,355.8 302.7,357.2 300.3,356.5 298.0,355.6 295.7,354.7 293.8,355.4 292.7,357.2 290.7,356.4 288.6,356.1 286.4,356.4 284.4,356.8 282.6,355.7 282.7,357.8 281.4,359.4 283.0,361.2 280.8,361.1 278.5,361.1 276.4,361.9 275.2,363.6 273.9,365.2 271.7,366.3 270.1,368.3 267.6,368.9 265.8,369.7 263.6,369.6 261.8,370.4 260.1,371.5 258.4,373.3 257.0,375.3 256.3,377.7 254.9,379.8 253.4,381.8 251.3,383.2 248.9,384.2 246.3,384.2 243.8,384.7 241.3,384.8 238.7,384.7 236.3,385.7 234.1,385.9 232.0,386.5 230.0,387.2 227.6,386.8 225.2,387.3 222.9,387.1 220.5,387.2 218.3,388.2 215.8,387.4 213.7,388.5 211.2,387.8 209.0,388.5 206.7,389.0 205.7,391.2 204.6,393.4 202.9,395.2 201.5,397.2 199.4,398.5 197.9,400.3 195.7,400.1 193.5,401.1 191.3,401.3 189.1,400.8 187.9,399.3 186.7,397.9 185.4,396.5 183.6,395.0 181.8,393.5 180.4,391.5 179.3,389.7 177.3,388.6 176.6,386.5 174.4,386.4 172.4,385.7 170.3,385.2 168.2,385.2 166.5,386.2 164.5,386.5 162.8,387.7 160.7,387.9 158.6,388.4 156.5,388.2 154.3,388.0 152.5,386.4 150.3,386.5 147.9,385.8 145.3,385.9 142.8,385.2 140.5,385.2 138.6,383.9 136.5,383.2 134.0,382.6 131.5,382.7 129.0,382.2 126.9,382.6 124.8,381.9 122.7,382.2 120.7,381.1 118.4,381.6 116.4,380.7 114.3,379.8 112.9,378.0 111.4,376.4 109.5,375.9 107.7,375.2 105.6,376.5 103.9,378.2 103.0,380.1 101.4,381.5 99.4,381.7 97.5,382.4 95.8,383.4 93.9,384.0 91.8,383.1 90.1,381.5 90.4,379.6 89.0,378.2 88.9,376.4 86.9,375.4 84.6,375.7 82.6,374.7 80.5,374.1 78.8,372.7 78.6,370.1 77.6,367.7 75.8,367.3 74.5,365.7 72.6,365.7 70.9,365.1 69.1,364.9 67.6,363.9 66.0,362.5 65.0,360.6 63.8,358.9 62.3,357.1 60.9,355.1 58.8,353.9 57.2,353.0 56.3,351.4 56.4,349.3 56.3,347.2 57.0,345.1 58.6,343.8 58.6,341.5 60.1,340.1 61.3,338.0 63.0,336.3 65.1,335.1 65.9,332.8 67.5,330.9 68.4,328.7 68.8,326.3 69.5,324.2 70.2,322.0 70.4,319.8 70.1,317.5 71.6,315.7 73.1,313.8 75.1,312.5 76.7,311.0 77.1,308.8 79.3,309.8 81.9,309.4 84.0,310.9 86.4,311.3 88.1,312.0 89.8,312.8 91.4,313.8 91.8,311.8 92.6,310.0 90.6,309.2 88.8,308.1 87.6,306.3 86.1,305.3 85.0,303.9 83.9,302.5 85.1,300.2 84.5,297.5 85.6,295.2 86.0,292.9 84.7,290.9 84.6,288.7 84.6,286.5 83.5,284.3 82.0,282.3 80.1,280.7 80.7,279.2 81.4,277.7 82.4,275.5 84.4,274.2 85.8,272.3 87.9,271.1 88.9,268.9 89.8,266.9 91.2,265.3 93.1,264.0 93.3,261.5 95.1,260.2 96.5,258.4 98.5,257.0 100.0,255.2 100.7,252.7 102.7,251.4 103.7,249.2 105.2,247.5 107.7,246.5 108.4,244.1 110.2,242.6 112.0,241.4 113.6,240.0 114.5,237.9 116.0,236.4 117.7,235.1 119.8,234.4 121.3,232.7 122.7,231.0"/><polygon points="559.3,512.2 565,510.9 570.6,510.7 580.6,513.2 586.9,516.5 575.6,516.5 565.6,514.7"/></g>
<g font-family="Liberation Sans, sans-serif" font-weight="bold" font-size="24" fill="#000" stroke="#000" stroke-width="0.5">
<text transform="translate(341.2,191.4) rotate(-43) scale(0.69,1)" text-anchor="middle" y="8.6">18</text>
<text transform="translate(384.5,264.1) rotate(-42) scale(0.69,1)" text-anchor="middle" y="8.6">19</text>
<text transform="translate(429.2,338.9) rotate(-6) scale(0.69,1)" text-anchor="middle" y="8.6">20</text>
<text transform="translate(445.5,371.5) rotate(-38) scale(0.69,1)" text-anchor="middle" y="8.6">21</text>
<text transform="translate(459.3,399.8) rotate(-46) scale(0.69,1)" text-anchor="middle" y="8.6">22</text>
<text transform="translate(481.9,419.1) rotate(-56) scale(0.69,1)" text-anchor="middle" y="8.6">23</text>
<text transform="translate(139.3,301.8) rotate(-8) scale(0.69,1)" text-anchor="middle" y="8.6">18</text>
<text transform="translate(155.1,335.9) rotate(-5) scale(0.69,1)" text-anchor="middle" y="8.6">17</text>
<text transform="translate(165,355.8) rotate(-5) scale(0.69,1)" text-anchor="middle" y="8.6">16</text>
</g>
<g fill="none" stroke="#000" stroke-width="1.2">
<path d="M49.5,87 V625.8 M55,625.5 H933 M55,85.5 H932.3 M932.5,87 V626" />
<path d="M145.5,71 V85.5 M145.5,625.5 V640.5"/>
<path d="M242.5,71 V85.5 M242.5,625.5 V640.5"/>
<path d="M339.5,71 V85.5 M339.5,625.5 V640.5"/>
<path d="M436.5,71 V85.5 M436.5,625.5 V640.5"/>
<path d="M533.5,71 V85.5 M533.5,625.5 V640.5"/>
<path d="M630.5,71 V85.5 M630.5,625.5 V640.5"/>
<path d="M727.5,71 V85.5 M727.5,625.5 V640.5"/>
<path d="M824.5,71 V85.5 M824.5,625.5 V640.5"/>
<path d="M921.5,71 V85.5 M921.5,625.5 V640.5"/>
<path d="M39.5,112.5 H49.5 M932.5,112.5 H943.5"/>
<path d="M39.5,247.5 H49.5 M932.5,247.5 H943.5"/>
<path d="M39.5,382.5 H49.5 M932.5,382.5 H943.5"/>
<path d="M39.5,517.5 H49.5 M932.5,517.5 H943.5"/>
</g>
<g font-family="Liberation Sans, sans-serif" font-size="29.7" fill="#000">
<text transform="translate(145.5,666) scale(0.725,1)" text-anchor="middle">24</text>
<text transform="translate(242.5,666) scale(0.725,1)" text-anchor="middle">26</text>
<text transform="translate(339.5,666) scale(0.725,1)" text-anchor="middle">28</text>
<text transform="translate(436.5,666) scale(0.725,1)" text-anchor="middle">30</text>
<text transform="translate(533.5,666) scale(0.725,1)" text-anchor="middle">32</text>
<text transform="translate(630.5,666) scale(0.725,1)" text-anchor="middle">34</text>
<text transform="translate(727.5,666) scale(0.725,1)" text-anchor="middle">36</text>
<text transform="translate(824.5,666) scale(0.725,1)" text-anchor="middle">38</text>
<text transform="translate(921.5,666) scale(0.725,1)" text-anchor="middle">40</text>
<text transform="translate(37.6,122.4) scale(0.725,1)" text-anchor="end">52</text>
<text transform="translate(37.6,257.3) scale(0.725,1)" text-anchor="end">50</text>
<text transform="translate(37.6,392.1) scale(0.725,1)" text-anchor="end">48</text>
<text transform="translate(37.6,527.4) scale(0.725,1)" text-anchor="end">46</text>
</g>
<g stroke="#000" stroke-width="1.2">
<rect x="976.5" y="76.30" width="35.5" height="23.84" fill="#9C0000"/>
<rect x="976.5" y="100.14" width="35.5" height="23.84" fill="#B40000"/>
<rect x="976.5" y="123.98" width="35.5" height="23.84" fill="#C80000"/>
<rect x="976.5" y="147.82" width="35.5" height="23.84" fill="#DA0000"/>
<rect x="976.5" y="171.66" width="35.5" height="23.84" fill="#EC0000"/>
<rect x="976.5" y="195.50" width="35.5" height="23.84" fill="#FF0400"/>
<rect x="976.5" y="219.33" width="35.5" height="23.84" fill="#FF1C00"/>
<rect x="976.5" y="243.17" width="35.5" height="23.84" fill="#FF3600"/>
<rect x="976.5" y="267.01" width="35.5" height="23.84" fill="#FF4C00"/>
<rect x="976.5" y="290.85" width="35.5" height="23.84" fill="#FF5E04"/>
<rect x="976.5" y="314.69" width="35.5" height="23.84" fill="#FF6C0C"/>
<rect x="976.5" y="338.53" width="35.5" height="23.84" fill="#FF7614"/>
<rect x="976.5" y="362.37" width="35.5" height="23.84" fill="#FF7E1C"/>
<rect x="976.5" y="386.21" width="35.5" height="23.84" fill="#FF8424"/>
<rect x="976.5" y="410.05" width="35.5" height="23.84" fill="#FF8C2E"/>
<rect x="976.5" y="433.89" width="35.5" height="23.84" fill="#FF9638"/>
<rect x="976.5" y="457.73" width="35.5" height="23.84" fill="#FFA848"/>
<rect x="976.5" y="481.57" width="35.5" height="23.84" fill="#FFBE5E"/>
<rect x="976.5" y="505.40" width="35.5" height="23.84" fill="#FFD474"/>
<rect x="976.5" y="529.24" width="35.5" height="23.84" fill="#FFE888"/>
<rect x="976.5" y="553.08" width="35.5" height="23.84" fill="#FFFF99"/>
<rect x="976.5" y="576.92" width="35.5" height="23.84" fill="#FFFFD0"/>
<rect x="976.5" y="600.76" width="35.5" height="23.84" fill="#FFFFFF"/>
</g>
<g font-family="Liberation Sans, sans-serif" font-size="19.5" fill="#000">
<text x="1014.8" y="106.7">30</text>
<text x="1014.8" y="130.6">29</text>
<text x="1014.8" y="154.4">28</text>
<text x="1014.8" y="178.3">27</text>
<text x="1014.8" y="202.1">26</text>
<text x="1014.8" y="225.9">25</text>
<text x="1014.8" y="249.8">24</text>
<text x="1014.8" y="273.6">23</text>
<text x="1014.8" y="297.5">22</text>
<text x="1014.8" y="321.3">21</text>
<text x="1014.8" y="345.1">20</text>
<text x="1014.8" y="369.0">19</text>
<text x="1014.8" y="392.8">18</text>
<text x="1014.8" y="416.6">17</text>
<text x="1014.8" y="440.5">16</text>
<text x="1014.8" y="464.3">15</text>
<text x="1014.8" y="488.2">14</text>
<text x="1014.8" y="512.0">13</text>
<text x="1014.8" y="535.8">12</text>
<text x="1014.8" y="559.7">11</text>
<text x="1014.8" y="583.5">10</text>
<text x="1014.8" y="607.4">9</text>
<text x="1014.8" y="631.2">8</text>
</g>
</svg>
</body></html>
